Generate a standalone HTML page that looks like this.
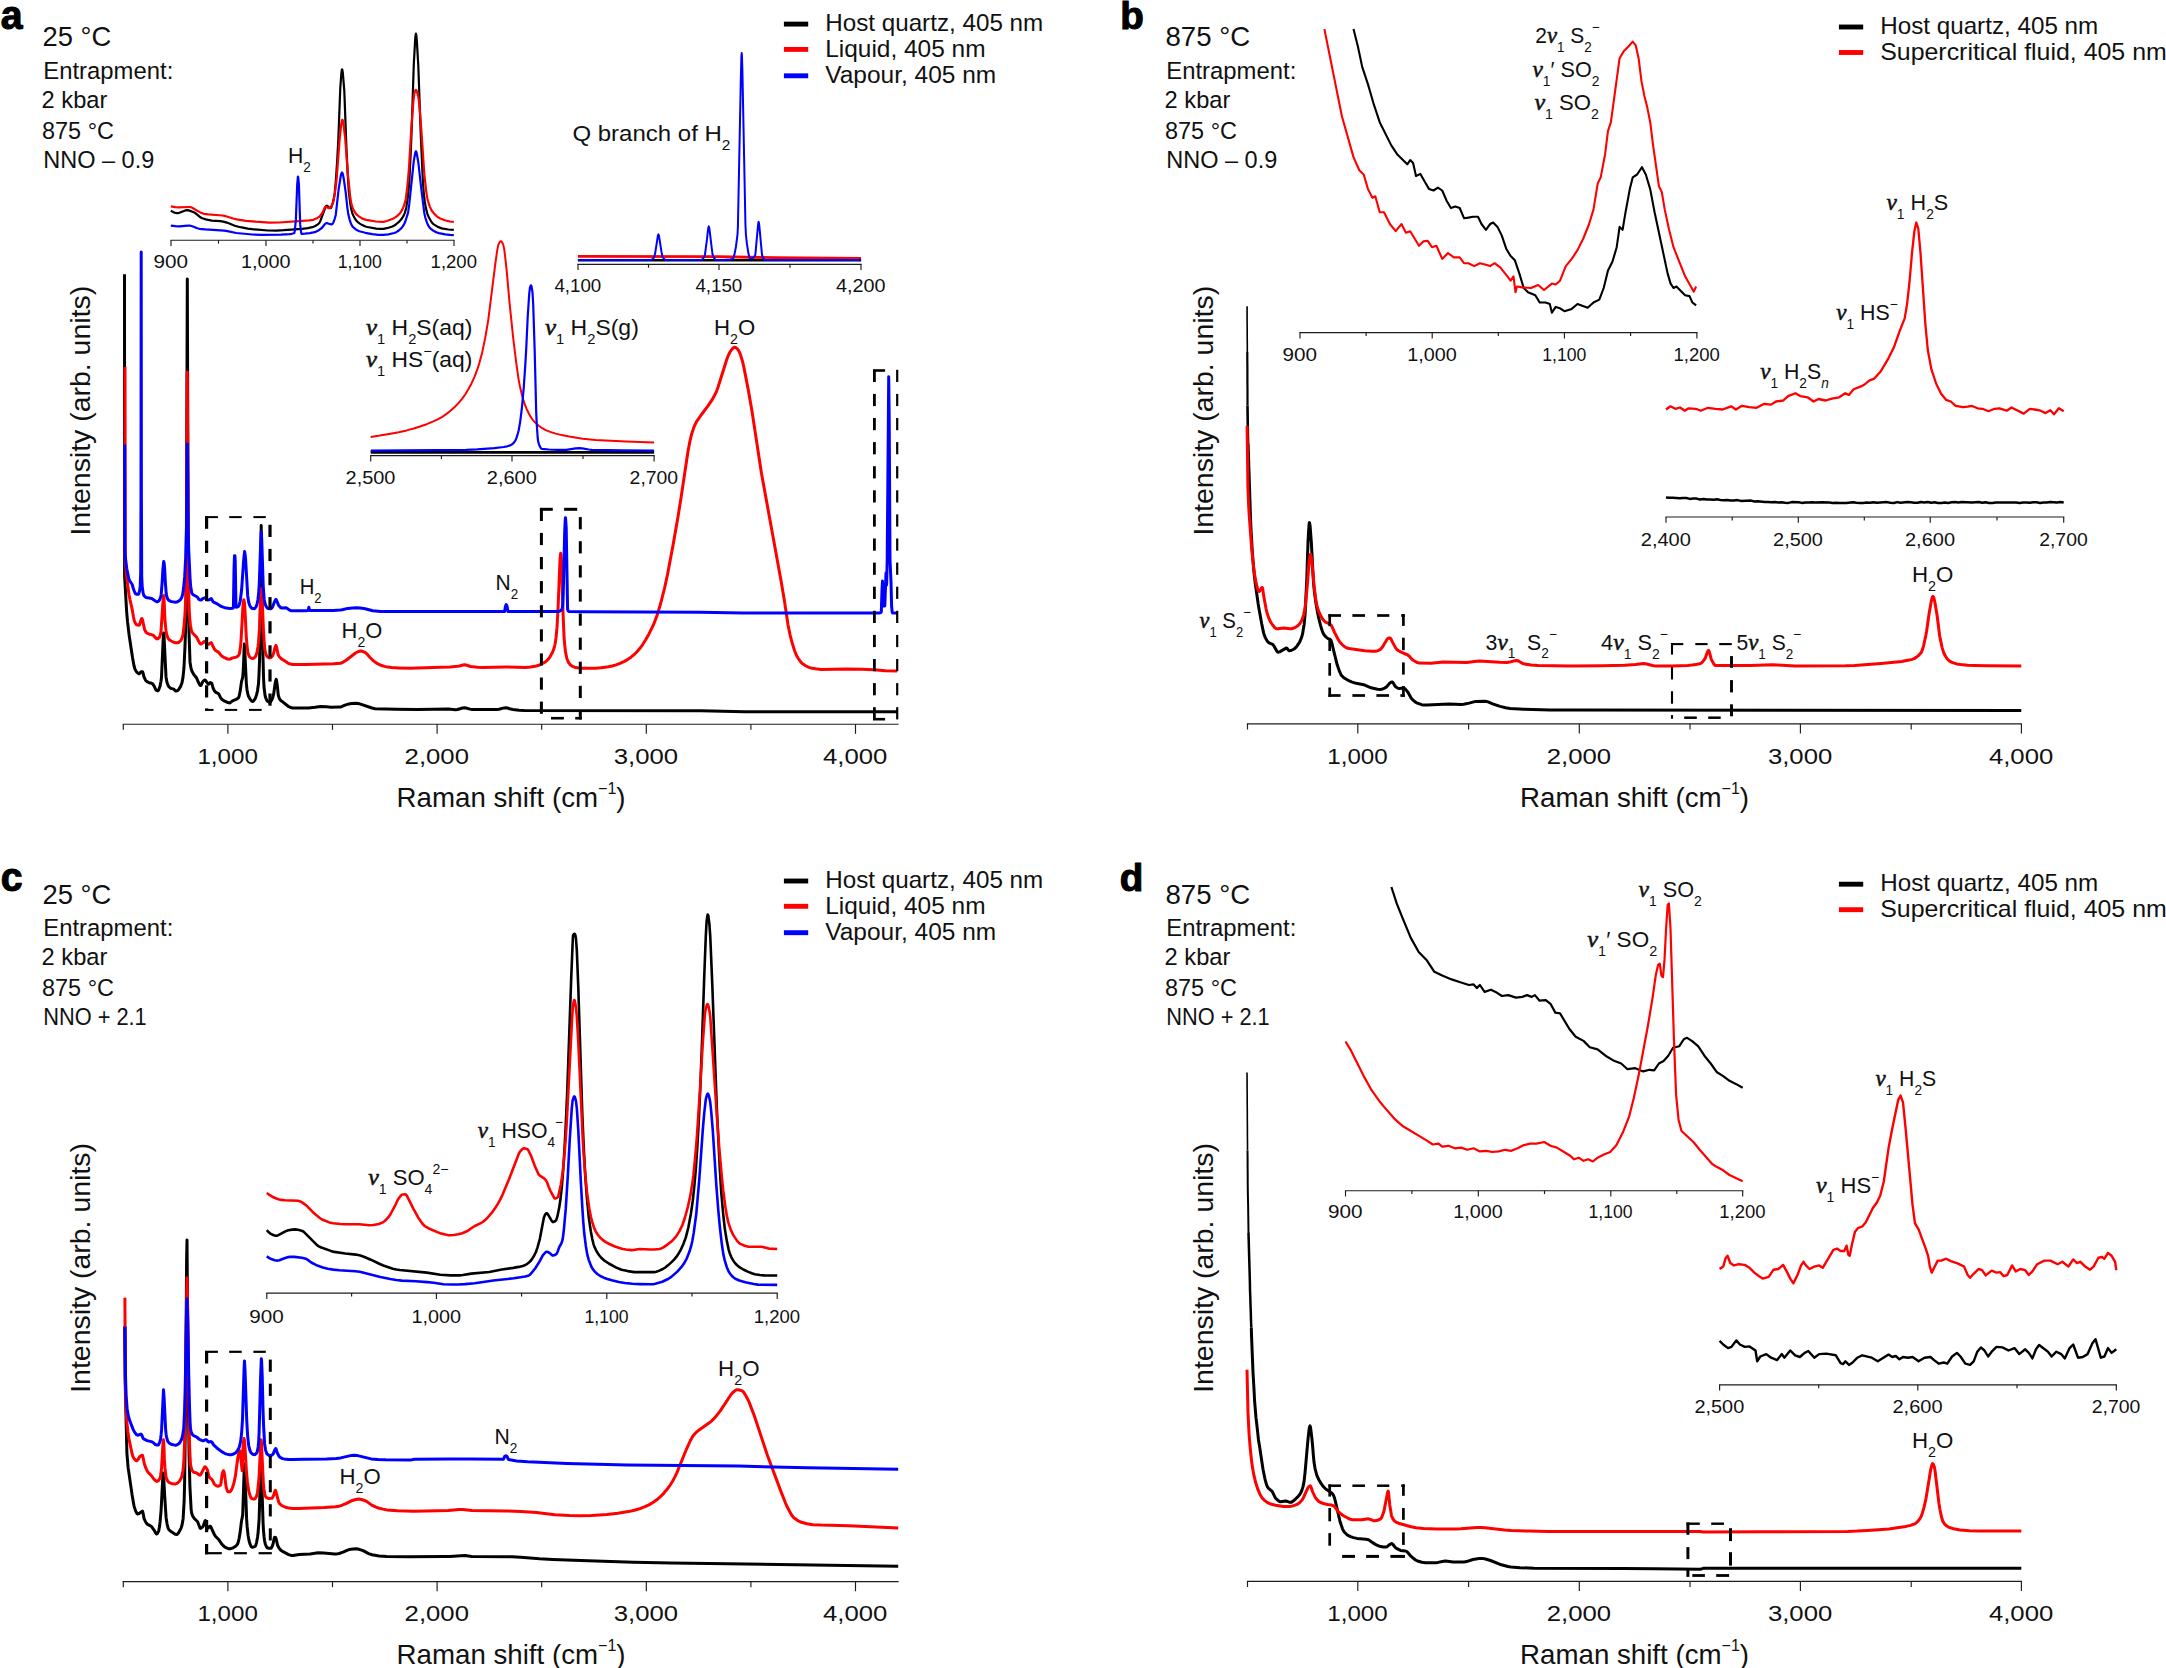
<!DOCTYPE html>
<html lang="en"><head><meta charset="utf-8"><title>Raman spectra</title>
<style>html,body{margin:0;padding:0;background:#fff}body{width:2166px;height:1668px;overflow:hidden}svg{display:block}text{white-space:pre}</style></head>
<body>
<svg width="2166" height="1668" viewBox="0 0 2166 1668" font-family="Liberation Sans, Arial, sans-serif">
<rect width="2166" height="1668" fill="#ffffff"/>
<path d="M170.8 210.7 L174.3 212.6 L175.8 213 L177 213.2 L179.3 212.8 L185.3 210.4 L187 210.2 L188.8 210.4 L193.8 212.2 L195.3 213.1 L200.8 217.6 L202.3 218.3 L205.8 219.4 L211.8 220.6 L220.3 221.2 L223.3 221.6 L226.8 222.6 L234.8 225.8 L240.3 227.2 L247.8 228.7 L257.8 229.7 L267.8 230.5 L276.3 230.6 L283.8 230.2 L301.8 228.8 L307.8 228.1 L312.3 227.2 L315.3 226 L317.8 224.3 L319.3 223 L320.3 221.2 L325.3 207.5 L326.3 205.8 L326.6 205.7 L327.3 205.9 L329.3 207.7 L330.3 208.2 L330.8 208 L331.3 207.3 L332.8 202.8 L334.3 195.9 L334.8 192.2 L335.8 181.3 L337.3 158.7 L338.3 139.7 L340.3 87.8 L341.3 74.1 L341.8 70 L342.1 69.3 L342.3 69.6 L342.8 72.5 L344.3 90.8 L346.5 149.6 L347.8 175.6 L348.8 191.8 L350.3 203.7 L351.3 209.2 L352.3 213.1 L353.3 215.5 L354.8 218.4 L356.3 220.6 L357.8 222.2 L359.8 223.6 L362.3 225.1 L364.8 226.2 L367.3 227 L376.3 228.6 L380.3 228.9 L383.3 228.8 L386.8 228.2 L391.8 226.8 L393.8 225.8 L395.8 224.5 L398.9 221.9 L401.3 219.3 L403.3 216.2 L404.8 212.9 L405.8 209.7 L406.3 207.4 L407.3 201.1 L408.3 192.8 L409.3 181.9 L410.8 151.3 L411.8 125.9 L413.8 64 L415.3 37.2 L415.9 33.7 L416.3 35.2 L416.8 40.4 L418.3 65.7 L420.8 135.7 L422.8 179.8 L423.8 194 L424.8 201.7 L425.8 207.6 L427.3 213.6 L428.8 217.3 L431.3 221.7 L432.3 223 L433.8 224.4 L437.8 226.9 L441.8 228.4 L448.3 229.5 L453.8 229.9" fill="none" stroke="#000000" stroke-width="2.2" stroke-linejoin="round" stroke-linecap="butt"/>
<path d="M170.8 206.4 L175.3 207.2 L178.8 207.4 L188.3 207 L190.3 207 L192.3 207.8 L196.3 210.3 L200.3 212.4 L203.8 213.8 L208.3 214.4 L222.3 215.5 L225.8 216.2 L233.3 218.5 L236.8 219.4 L245.8 220.8 L255.8 221.7 L269.3 222.6 L279.3 222.5 L309.3 220.4 L313.3 219.8 L316.3 218.6 L319.3 216.8 L320.8 215.1 L322.9 211.9 L324.8 207.4 L325.3 206.9 L326.3 207.1 L328.8 208.2 L329.8 208 L331.3 206.2 L332.8 203.3 L333.3 201.9 L334.8 193.9 L336.6 179.5 L339.6 139.6 L341.3 123.7 L341.8 120.8 L342.3 119.7 L342.8 120.4 L343.3 122.7 L345.3 139.6 L347.8 173.6 L350.3 197.5 L351.5 204.4 L352.8 208.1 L353.8 210.4 L355.8 213.6 L357.3 215.1 L359.3 216.6 L361.3 217.9 L363.3 218.9 L365.3 219.6 L367.8 220.2 L375.8 221.5 L382.3 221.9 L384.3 221.6 L386.8 221 L392.8 218.8 L395.3 217.4 L397.3 215.9 L399.3 214 L400.8 212.1 L402.3 209.6 L403.8 206.1 L405.1 201.9 L405.8 198.9 L407.3 186.9 L408.9 169.5 L411.3 128.5 L413.3 101.9 L414.3 93.8 L415.3 90.5 L415.9 89.8 L416.3 90.1 L417.3 92.7 L418.3 96.9 L418.8 100.2 L419.8 110.2 L421.3 129.6 L424.3 174 L426.3 192 L427.3 198.2 L428.3 202.1 L429.8 206.6 L431.8 210.8 L434.3 213.9 L436.8 216.3 L438.3 217.4 L440.3 218.5 L444.8 220.2 L449.8 221.5 L453.8 221.9" fill="none" stroke="#ff0000" stroke-width="2.2" stroke-linejoin="round" stroke-linecap="butt"/>
<path d="M170.8 225.6 L175.3 226.2 L179.3 226.4 L187.8 225.7 L190.3 225.7 L192.3 226.2 L197.3 228.3 L199.3 228.8 L205.3 229.4 L224.3 230.6 L227.3 231.1 L236.3 233 L252.3 234.5 L261.8 234.9 L280.8 234.6 L289.8 234.2 L291.8 233.8 L293.8 233.3 L294.3 233 L294.8 231 L295.9 219.4 L297.2 184.5 L297.9 176.5 L298.3 177.8 L298.9 184.5 L300.2 224.4 L300.8 230.1 L301.3 233.1 L301.7 233.9 L304.8 233.7 L309.8 233.2 L314.8 232.2 L317.8 230.8 L321.8 228 L324.8 224.3 L325.8 223.4 L326.3 223.2 L327.3 223.2 L330.3 224.2 L331.6 224.4 L332.3 224.1 L333.3 222.6 L334.8 218.6 L335.8 214.7 L338.6 189.5 L340.8 175.8 L341.3 173.8 L341.8 172.7 L342.1 172.5 L342.3 172.7 L342.8 173.9 L343.8 179 L345.8 193.1 L347.3 207.3 L348.3 214.4 L349.8 220.1 L350.8 223.2 L351.8 225.4 L352.8 226.9 L355.8 229.4 L359.3 231.2 L365.3 232.8 L372.3 234.1 L378.3 234.8 L383.3 234.8 L388.3 234.3 L394.3 233 L396.3 232.2 L398.8 230.5 L401.4 228.1 L402.8 226.4 L404.3 223.8 L405.3 221.5 L407.6 214.4 L408.3 211.2 L409.3 203.7 L413.8 160.9 L415.3 152.5 L415.9 151.3 L416.3 151.9 L416.8 153.8 L418.3 162.2 L421.3 189 L424.3 213 L425.3 217.6 L426.8 222.2 L427.8 224.6 L429.3 227.2 L430.8 228.8 L433.3 230.7 L436.3 232.3 L438.8 233.1 L445.3 234.4 L449.8 234.9 L453.8 235.1" fill="none" stroke="#0000ff" stroke-width="2.2" stroke-linejoin="round" stroke-linecap="butt"/>
<line x1="170.4" y1="240.2" x2="454.6" y2="240.2" stroke="#1c1c1c" stroke-width="1.15"/>
<line x1="171" y1="240.2" x2="171" y2="246" stroke="#1c1c1c" stroke-width="1.15"/>
<line x1="266" y1="240.2" x2="266" y2="246" stroke="#1c1c1c" stroke-width="1.15"/>
<line x1="360" y1="240.2" x2="360" y2="246" stroke="#1c1c1c" stroke-width="1.15"/>
<line x1="454" y1="240.2" x2="454" y2="246" stroke="#1c1c1c" stroke-width="1.15"/>
<line x1="218.5" y1="240.2" x2="218.5" y2="243.6" stroke="#1c1c1c" stroke-width="1.15"/>
<line x1="313" y1="240.2" x2="313" y2="243.6" stroke="#1c1c1c" stroke-width="1.15"/>
<line x1="407" y1="240.2" x2="407" y2="243.6" stroke="#1c1c1c" stroke-width="1.15"/>
<text transform="translate(153.5 268.2) scale(1.0895 1)" font-size="19" fill="#111111">900</text>
<text transform="translate(241 268.2) scale(1.0423 1)" font-size="19" fill="#111111">1,000</text>
<text transform="translate(337.8 268.2) scale(0.9277 1)" font-size="19" fill="#111111">1,100</text>
<text transform="translate(430.6 268.2) scale(0.9756 1)" font-size="19" fill="#111111">1,200</text>
<text transform="translate(288 163.3) scale(0.9627 1)" font-size="22" fill="#111111">H<tspan font-size="14.1" dy="8.8">2</tspan></text>
<path d="M577.9 260.3 L861.1 260.3" fill="none" stroke="#000000" stroke-width="2.6" stroke-linejoin="round" stroke-linecap="butt"/>
<path d="M577.9 256.3 L717.4 256.6 L774.4 257.7 L861.1 258.5" fill="none" stroke="#ff0000" stroke-width="2.8" stroke-linejoin="round" stroke-linecap="butt"/>
<path d="M577.9 260 L650.7 260 L651.4 259.9 L652.9 258.8 L654.4 256.6 L655.4 251.7 L657.9 235.7 L658.4 234.4 L658.9 235.4 L661.4 251.4 L662.4 256.5 L663.4 258.1 L664.9 259.6 L666.1 260 L701.4 260 L702.4 259.4 L703.4 258.2 L704.6 256 L704.9 255 L706.9 239.9 L707.9 230.7 L708.4 227.3 L708.8 226.4 L709.4 228.6 L712.4 253.5 L712.9 255.8 L714.4 258.5 L715.4 259.6 L716.5 260 L723.4 259.9 L729.9 259.5 L732 259.3 L732.4 259.1 L732.9 258.6 L733.9 256.3 L734.4 254.6 L735.9 247 L737.5 234.5 L737.9 226.7 L740.9 75.2 L741.4 56.7 L741.7 53.1 L741.9 54.7 L742.4 70.5 L745.4 223.2 L745.9 234.5 L746.9 243.7 L748.4 253.3 L749.4 257.1 L749.9 258.1 L750.4 258.7 L750.9 258.8 L751.9 258.5 L752.9 258 L753.9 257 L755.1 255.5 L755.4 254.1 L757.9 226.7 L758.4 222.5 L758.6 221.9 L758.9 222.5 L759.4 226.6 L761.9 253.8 L762.2 255.5 L763.4 258.2 L764.4 259.6 L764.9 260 L861.1 260" fill="none" stroke="#0000ff" stroke-width="2.0" stroke-linejoin="round" stroke-linecap="butt"/>
<line x1="577.4" y1="264.3" x2="861.6" y2="264.3" stroke="#1c1c1c" stroke-width="1.15"/>
<line x1="578" y1="264.3" x2="578" y2="270.1" stroke="#1c1c1c" stroke-width="1.15"/>
<line x1="719" y1="264.3" x2="719" y2="270.1" stroke="#1c1c1c" stroke-width="1.15"/>
<line x1="861" y1="264.3" x2="861" y2="270.1" stroke="#1c1c1c" stroke-width="1.15"/>
<line x1="648.5" y1="264.3" x2="648.5" y2="267.7" stroke="#1c1c1c" stroke-width="1.15"/>
<line x1="790" y1="264.3" x2="790" y2="267.7" stroke="#1c1c1c" stroke-width="1.15"/>
<text transform="translate(554.4 292) scale(0.9861 1)" font-size="19" fill="#111111">4,100</text>
<text transform="translate(695.4 292) scale(0.9861 1)" font-size="19" fill="#111111">4,150</text>
<text transform="translate(836 292) scale(1.0423 1)" font-size="19" fill="#111111">4,200</text>
<text transform="translate(572.4 140.9) scale(1.0922 1)" font-size="22" fill="#111111">Q branch of H<tspan font-size="14.1" dy="8.8">2</tspan></text>
<path d="M370.7 452.4 L654.1 452.4" fill="none" stroke="#000000" stroke-width="2.8" stroke-linejoin="round" stroke-linecap="butt"/>
<path d="M370.7 436.9 L379.7 435.6 L389.2 434 L398.7 432.2 L406.7 430.4 L413.7 428.5 L420.7 426.3 L426.7 424.2 L432.7 421.7 L437.7 419.3 L442.2 416.8 L446.2 414.1 L450.2 411 L454.7 407 L458.7 402.9 L462.2 398.7 L465.2 394.5 L468.2 389.6 L470.7 385.1 L474.7 376.3 L477.2 369.7 L479.2 363.6 L482.2 352.4 L485.2 338 L488.2 320.3 L495.2 264.6 L497.2 250.4 L498.3 244.9 L499.7 242.1 L500.2 241.5 L500.8 241.2 L501.7 241.7 L502.2 242.5 L503.3 244.9 L504.2 249.1 L504.7 252.8 L506.7 270.6 L509.5 302.3 L513.2 338 L516.2 362.7 L518.7 380.1 L519.7 385.3 L521.7 394 L523.2 399.6 L524.7 404.2 L526.7 409.1 L528.7 413.3 L530.7 416.9 L532.7 419.8 L535.2 422.6 L538.7 425.7 L542.2 428.2 L545.7 430.1 L550.2 431.9 L555.7 433.6 L561.7 435.1 L569.2 436.6 L582.7 438.7 L595.7 439.9 L626.2 441.4 L654.1 442.4" fill="none" stroke="#ff0000" stroke-width="2.0" stroke-linejoin="round" stroke-linecap="butt"/>
<path d="M370.7 450.6 L437.2 450.2 L466.2 449.8 L477.2 449.4 L494.2 448.2 L503.7 447 L507.2 446.3 L510.2 445.4 L512.2 444.2 L513.7 442.9 L515.2 440.9 L516.2 438.7 L517.7 434.1 L518.7 430.2 L520.2 421.6 L522 407 L523.7 388.2 L525.2 366.3 L526.2 349.4 L527.7 317 L529.2 294.1 L530 287.3 L530.7 285.6 L531 285.3 L531.2 285.5 L531.7 287.1 L532.5 292.3 L533.2 304.3 L534.7 351.4 L536.2 412.1 L536.7 423.3 L537.7 438 L538.2 441.7 L539.2 444.9 L540.7 447.9 L541.2 448.5 L541.9 448.9 L548.7 449.5 L556.7 449.8 L566.2 449.8 L575.7 448.4 L579.3 448.1 L582.2 448.3 L588.7 449.5 L591.7 449.9 L621.2 450.4 L654.1 450.6" fill="none" stroke="#0000ff" stroke-width="2.2" stroke-linejoin="round" stroke-linecap="butt"/>
<line x1="370.1" y1="455.6" x2="654.7" y2="455.6" stroke="#1c1c1c" stroke-width="1.15"/>
<line x1="370.7" y1="455.6" x2="370.7" y2="461.4" stroke="#1c1c1c" stroke-width="1.15"/>
<line x1="512" y1="455.6" x2="512" y2="461.4" stroke="#1c1c1c" stroke-width="1.15"/>
<line x1="654.1" y1="455.6" x2="654.1" y2="461.4" stroke="#1c1c1c" stroke-width="1.15"/>
<line x1="441.4" y1="455.6" x2="441.4" y2="459" stroke="#1c1c1c" stroke-width="1.15"/>
<line x1="583" y1="455.6" x2="583" y2="459" stroke="#1c1c1c" stroke-width="1.15"/>
<text transform="translate(345.6 484.3) scale(1.0486 1)" font-size="19" fill="#111111">2,500</text>
<text transform="translate(486.8 484.3) scale(1.0528 1)" font-size="19" fill="#111111">2,600</text>
<text transform="translate(629.6 484.3) scale(1.0215 1)" font-size="19" fill="#111111">2,700</text>
<text transform="translate(366 335.2) scale(1.0426 1)" font-size="22" fill="#111111"><tspan font-family="Liberation Serif, serif" font-style="italic" font-size="23.8" stroke="#111" stroke-width="0.55">ν</tspan><tspan font-size="14.1" dy="8.8">1</tspan><tspan dy="-8.8"> H</tspan><tspan font-size="14.1" dy="8.8">2</tspan><tspan dy="-8.8">S(aq)</tspan></text>
<text transform="translate(366 367) scale(1.0386 1)" font-size="22" fill="#111111"><tspan font-family="Liberation Serif, serif" font-style="italic" font-size="23.8" stroke="#111" stroke-width="0.55">ν</tspan><tspan font-size="14.1" dy="8.8">1</tspan><tspan dy="-8.8"> HS</tspan><tspan font-size="14.1" dy="-11">−</tspan><tspan dy="11">(aq)</tspan></text>
<text transform="translate(545 335) scale(1.0443 1)" font-size="22" fill="#111111"><tspan font-family="Liberation Serif, serif" font-style="italic" font-size="23.8" stroke="#111" stroke-width="0.55">ν</tspan><tspan font-size="14.1" dy="8.8">1</tspan><tspan dy="-8.8"> H</tspan><tspan font-size="14.1" dy="8.8">2</tspan><tspan dy="-8.8">S(g)</tspan></text>
<text transform="translate(714 335) scale(1.0069 1)" font-size="22" fill="#111111">H<tspan font-size="14.1" dy="8.8">2</tspan><tspan dy="-8.8">O</tspan></text>
<path d="M124.5 274.2 L124.6 576.2 L126.6 610.8 L127.5 621.4 L129 634.2 L132.5 657.5 L134 665.7 L134.9 669 L136.5 671.9 L138.5 673.7 L139.1 673.8 L139.5 673.6 L141 671.8 L142.5 671.7 L143 672.9 L143.9 676.6 L145.5 680.2 L146.5 681.2 L148 682.2 L149.5 682.8 L151.5 683.3 L152.5 683.7 L154.3 686.3 L155.5 689.1 L156.4 690.4 L157.8 690.9 L158.5 690.2 L160 686.4 L161 681.3 L161.5 677.1 L163 643.1 L163.5 634 L163.7 633 L164 635.4 L166 676.9 L167 682.5 L168.2 685.6 L169 686.8 L170 687.8 L171 688.4 L173.7 689.1 L175.5 691.1 L176 691.1 L177 690.8 L178 690.3 L178.5 689.8 L180.5 686.6 L182 682.8 L183 677.3 L184 667.2 L185 646.1 L185.5 631.1 L186.2 597 L187.3 279.1 L188.4 597 L189 632 L190 661.9 L191 668.2 L192 671.2 L193.8 674.5 L196.6 678 L198.5 682.6 L200 685.2 L200.5 685.6 L201 685.4 L202.5 682.1 L203.5 680.9 L204.5 680.1 L205 680.1 L205.5 680.4 L208 683.8 L208.5 684.2 L209 684 L210 682.7 L210.4 682.5 L211 682.8 L211.8 683.5 L212 684 L213 688 L214.5 691 L215.5 692.1 L218 693.4 L218.7 693.9 L220.8 698.1 L222 699.4 L224 700.8 L227 702.2 L229 702.8 L230 702.9 L232.5 700.8 L235.5 699.7 L237.5 698.6 L238.5 697.7 L239 696.8 L240.2 691.1 L241.5 681.6 L242.7 677.3 L243 673.8 L243.5 665.7 L244.3 644 L244.5 645.3 L246.4 684.2 L247 689.7 L247.8 693.9 L248.5 696.2 L249.9 698.8 L251.5 700.9 L252.5 701.5 L253 701.4 L254.5 699.7 L255.5 697.9 L256.5 694.9 L257.5 690.8 L258.5 683.5 L259 674.8 L259.6 659.3 L260.6 597 L261.2 525.6 L262 604.5 L262.5 636 L263.5 676.7 L264 687 L265 695.1 L265.8 698.1 L267 700.6 L267.9 701.5 L269 702.1 L270 702.2 L270.5 701.9 L271.5 700.4 L272.5 698.3 L273.7 693.9 L275 684.5 L275.5 681.6 L276.2 679.4 L276.5 680.2 L277.3 685.6 L278.3 695.3 L279.5 698.9 L281 700.8 L283 702.1 L288.5 706.5 L290 707.3 L292.5 708 L308.5 707.9 L315 707.3 L320.5 706.4 L326.5 706.7 L331 707.3 L339.9 707.1 L341.5 706.7 L345 705.1 L349 703.9 L351.5 703.6 L356.5 703.3 L359 703.7 L372 708 L375 708.8 L396 709.3 L417 709.4 L448.5 708.9 L455.5 709.8 L457.5 709.5 L462.5 708 L464.4 707.8 L466 708 L470 709.1 L471.5 709.4 L497 709.4 L499 709.2 L504 707.9 L506 707.8 L507.5 708 L510.5 709.1 L513 709.5 L519 710.2 L524.5 710.5 L701 710.8 L744.5 711.7 L897.1 711.7" fill="none" stroke="#000000" stroke-width="3.0" stroke-linejoin="round" stroke-linecap="butt"/>
<path d="M125 367 L125.2 555.4 L125.5 562.7 L126 569.7 L127 580.2 L129 594.5 L130 599.8 L132.2 609.4 L133.5 617 L134.2 620.5 L135 622.5 L136 624.4 L137.5 625.1 L139.1 625.3 L139.5 624.9 L141 620 L141.5 618.8 L142 618.5 L142.5 619.8 L144.6 629.5 L146 632.2 L147 633.1 L149 634 L153 635.1 L156.5 638.6 L157 638.9 L158 638.7 L159.5 637.4 L160.5 634.3 L161 631.6 L162.9 602.5 L163.5 596.7 L163.7 595.6 L164 597.3 L164.8 617.7 L165.5 625.9 L166 630.7 L166.5 633.4 L167 635.5 L168 638.2 L169 639.4 L170 640.3 L173.5 642.2 L175 642.7 L178 642.7 L178.5 642.5 L179.5 641.8 L181 640.2 L182 638.1 L183 634.6 L184 626.1 L185 614.1 L185.5 603.9 L186 587.3 L186.5 555 L187.3 371.9 L188.1 555.4 L188.5 580.3 L189.2 610.8 L190 621.5 L190.5 625.5 L191.5 630.9 L192 632.1 L193 633.5 L196.6 637.1 L198.5 641 L200 643.5 L200.5 644 L201 644 L201.5 643.8 L204 641.7 L204.9 641.3 L205.5 641.9 L206.5 644.2 L207 644.7 L209 644 L210.5 642.9 L211.1 642.7 L211.5 642.9 L213.2 646.8 L214.5 649.2 L215.3 650.3 L218.7 652.4 L221 655.3 L222.5 656.5 L224.5 657.7 L227.5 659 L229 659.3 L230 659.1 L232.5 657.9 L236.5 657.1 L238 656.1 L239 654.9 L239.5 653.2 L240.5 646.8 L241 640.8 L243 605.3 L243.5 601.4 L243.9 599.7 L244.5 603.1 L245 610.8 L246.4 638.5 L247 645.3 L247.8 652.4 L249 655.8 L249.5 656.7 L250.5 657.7 L251.5 658.3 L252.7 658.6 L253.5 658.4 L254.5 657.6 L255.5 656.5 L256 655.5 L257 652.1 L258 646.7 L258.5 642.2 L259.5 628.9 L260.4 603.9 L261 592.9 L261.4 588.6 L262 595.7 L263.5 631.5 L264 639.7 L264.8 649.6 L266 654.6 L266.5 655.7 L267 656.4 L268.5 657.7 L269.3 657.9 L270 657.8 L271.5 657.1 L272.5 655.8 L273.5 653.7 L274.8 648.2 L275.5 646.2 L276 645.4 L276.5 646.8 L278 654.1 L278.5 655.5 L279.5 657 L281.5 658.9 L284.5 660.7 L287.5 662.8 L288.5 663.4 L290.5 664 L292.8 664.4 L306.5 664.4 L333.5 663.8 L340.5 663.3 L342.5 662.5 L346.5 660 L355.5 653 L358.5 651.5 L360.7 651 L362.5 651.3 L365.5 652.7 L367 654.1 L370 657.5 L373.5 660.8 L375.5 662.4 L378.5 664.2 L381 665.3 L384.5 666.4 L388 667.1 L391.5 667.5 L399 667.9 L410 668.3 L418 667.9 L441 667.3 L450 666.9 L457.5 666.3 L459.5 666 L463 665 L464.4 664.8 L466 665 L470.6 666.5 L477.5 667.3 L482.5 667.6 L505.3 666.9 L525.5 667.6 L530.5 667.1 L536.5 666 L539.5 665 L543.5 663 L546 661.4 L548 659.5 L550 656.8 L552.5 652.3 L554 648.4 L555 644.5 L556 637.9 L557 627.4 L558 609.5 L560 559.7 L560.5 554.1 L560.7 553.3 L561 554.8 L561.5 562.3 L563 611.9 L564 635.9 L564.5 642.8 L565.5 652 L567 659 L568.5 662.4 L570 664.5 L572 666.1 L574.5 667.2 L577.5 667.8 L581.5 668.2 L595.5 668.3 L601 667.8 L608.5 666.8 L612 666 L616 664.9 L620 663.4 L624.4 661.4 L627.5 659.6 L631 657.2 L634 654.7 L636.5 652.2 L639.5 648.8 L642.5 644.8 L645.5 640 L649 633.9 L653.5 624.7 L657 615.6 L660.5 604 L664.5 588.3 L667.5 574.5 L673 545.4 L678 516.7 L681 498.1 L688 451.3 L690 440.9 L691.8 433.4 L694 426.9 L696.5 421.7 L701.5 414.5 L708 405.9 L712 399.9 L715 394.6 L716.5 391.3 L718 387.3 L726.5 360.2 L728 356.1 L730 352 L731.5 349.7 L733 348.1 L734 347.4 L734.6 347.2 L735.5 347.4 L737 348.6 L738.5 350.3 L740 353.4 L742.5 361.3 L744.5 370.4 L748.5 391.1 L752 411.2 L761.5 473.5 L781 580.5 L784.5 601.3 L788 624.8 L790 634.6 L792 642.4 L794.5 650.5 L796.3 655 L798 658 L800 661 L801.5 662.8 L803 664.1 L806 666 L809 667.4 L811 668 L815.5 668.8 L821 669.4 L846.5 669.1 L862 669.3 L873.5 669.7 L885.5 670.8 L897.1 670.9" fill="none" stroke="#ff0000" stroke-width="3.0" stroke-linejoin="round" stroke-linecap="butt"/>
<path d="M124.7 444.6 L125 548.5 L125.2 554.4 L125.7 560.3 L126.7 568.3 L128.7 578.2 L129.7 580.9 L132.2 584.5 L133.7 589.8 L134.7 592.3 L135.7 593.8 L136.2 594.2 L138.4 594.2 L138.7 594 L139.7 590.5 L140.2 586.5 L140.7 572.3 L141 500 L141.2 252.1 L141.4 500 L141.7 575.7 L142.2 586.8 L143.2 593.4 L143.9 595.6 L145.2 596.9 L146.2 597.5 L151.7 598.4 L154.2 600.3 L156.7 601.7 L157.2 601.8 L158.2 601.4 L159.2 600.4 L159.7 599.7 L160.7 596.8 L161.2 594.2 L162.1 583.1 L162.9 569.3 L163.7 561.6 L164.2 563.7 L164.7 569.3 L165.4 583.1 L166.2 593.3 L166.5 595.6 L167.7 598.9 L168.7 600.3 L170.7 601.4 L174.2 602.1 L175.8 602.2 L176.7 602.1 L179.2 600.7 L180.7 599.3 L181.7 597.6 L182.7 594.3 L183.7 587.3 L184.7 576.2 L185.7 557.6 L186.5 527.7 L187.3 443.9 L188.1 527.7 L188.7 549.7 L190.2 581 L190.7 586.5 L191.7 592.7 L192.2 593.8 L193.2 594.8 L197.3 597 L198.7 599.1 L199.3 599.7 L201.2 600 L202.8 598.6 L205.2 597.7 L205.7 597.7 L206.2 598.1 L207.2 599.7 L207.6 600 L209.4 599.7 L210.7 598.8 L211.2 598.6 L211.7 599.1 L212.7 601.1 L213.2 601.8 L213.7 602.1 L216.2 603.3 L221.7 606.7 L224.7 607.7 L228.2 608.3 L230.5 608.4 L232.2 608.3 L233.4 607.8 L234 569.3 L234.5 555.7 L234.9 555.7 L235.2 560.4 L236 607.2 L237.2 607 L238.2 606.6 L238.7 606 L239.2 604.8 L240.2 601.3 L241.6 590 L243.7 559.6 L244.6 551.5 L245.2 555.2 L245.7 561 L247.7 595.7 L248.7 602.2 L249.7 605.4 L250.7 607.1 L251.7 608.2 L253.2 608.6 L254.2 608.7 L255.2 608 L256.2 606.5 L257.2 603.5 L257.9 599.7 L258.7 592.6 L259.2 585.2 L260.7 542.9 L261.2 531.9 L261.7 538.9 L263.2 585.8 L264.2 599.4 L264.7 602.3 L265.7 605.6 L267.2 607.9 L268.2 608.6 L270.7 608.7 L271.7 608.1 L272.7 606.6 L274.5 601.8 L275.2 600.4 L275.9 599.4 L276.2 599.6 L278.7 605.5 L280.7 607.6 L281.7 608 L286.2 607.8 L290.2 610.4 L291.4 610.8 L304.7 610.8 L308.1 610.5 L308.9 607.3 L309.7 610.5 L333.2 610.4 L339.9 610.1 L342.2 609.8 L347.7 608.4 L352.7 607.9 L356.7 607.8 L360.2 608 L365.2 608.8 L372.7 610.7 L380.7 611.5 L504.6 611.5 L505.4 606.6 L506.2 604.6 L506.7 605.3 L507.1 606.6 L507.9 611.5 L557.9 611.5 L559.2 611.3 L560.7 610.6 L561.7 609.7 L562.2 608.2 L562.7 605.3 L563.2 595.6 L564.7 531.5 L565.2 520.7 L565.5 517.7 L566.2 527.7 L567.6 609.4 L568.2 610.9 L568.7 611.4 L584.7 611.7 L700.2 612.2 L743.2 612.9 L879.7 612.9 L880.7 612.5 L881.3 612 L882 590 L882.5 581 L883.8 606 L884.8 606 L886 573 L886.5 585 L886.7 582.8 L887.2 560 L888.7 376.7 L889.2 419.1 L890 560 L891 582 L891.6 606 L892.2 612.3 L892.4 612.9 L897 612.9" fill="none" stroke="#0000ff" stroke-width="3.0" stroke-linejoin="round" stroke-linecap="butt"/>
<text transform="translate(299.7 594.2) scale(0.9209 1)" font-size="22" fill="#111111">H<tspan font-size="14.1" dy="8.8">2</tspan></text>
<text transform="translate(341.6 637.8) scale(0.9971 1)" font-size="22" fill="#111111">H<tspan font-size="14.1" dy="8.8">2</tspan><tspan dy="-8.8">O</tspan></text>
<text transform="translate(495.6 590) scale(0.9543 1)" font-size="22" fill="#111111">N<tspan font-size="14.1" dy="8.8">2</tspan></text>
<line x1="206.6" y1="516.6" x2="206.6" y2="528.8" stroke="#000" stroke-width="3.2"/>
<line x1="206.6" y1="540.7" x2="206.6" y2="552.9" stroke="#000" stroke-width="3.2"/>
<line x1="206.6" y1="564.8" x2="206.6" y2="577" stroke="#000" stroke-width="3.2"/>
<line x1="206.6" y1="588.9" x2="206.6" y2="601.1" stroke="#000" stroke-width="3.2"/>
<line x1="206.6" y1="613" x2="206.6" y2="625.2" stroke="#000" stroke-width="3.2"/>
<line x1="206.6" y1="637.1" x2="206.6" y2="649.3" stroke="#000" stroke-width="3.2"/>
<line x1="206.6" y1="661.2" x2="206.6" y2="673.4" stroke="#000" stroke-width="3.2"/>
<line x1="206.6" y1="685.3" x2="206.6" y2="697.5" stroke="#000" stroke-width="3.2"/>
<line x1="206.6" y1="708.4" x2="206.6" y2="710.9" stroke="#000" stroke-width="3.2"/>
<line x1="270" y1="524.8" x2="270" y2="537" stroke="#000" stroke-width="3.2"/>
<line x1="270" y1="548.9" x2="270" y2="561.1" stroke="#000" stroke-width="3.2"/>
<line x1="270" y1="573" x2="270" y2="585.2" stroke="#000" stroke-width="3.2"/>
<line x1="270" y1="597.1" x2="270" y2="609.3" stroke="#000" stroke-width="3.2"/>
<line x1="270" y1="621.2" x2="270" y2="633.4" stroke="#000" stroke-width="3.2"/>
<line x1="270" y1="645.3" x2="270" y2="657.5" stroke="#000" stroke-width="3.2"/>
<line x1="270" y1="669.4" x2="270" y2="681.6" stroke="#000" stroke-width="3.2"/>
<line x1="270" y1="693.5" x2="270" y2="705.7" stroke="#000" stroke-width="3.2"/>
<line x1="205" y1="517.1" x2="217.9" y2="517.1" stroke="#000" stroke-width="2.0"/>
<line x1="229.2" y1="517.1" x2="241.7" y2="517.1" stroke="#000" stroke-width="2.0"/>
<line x1="253.4" y1="517.1" x2="265.8" y2="517.1" stroke="#000" stroke-width="2.0"/>
<line x1="205" y1="709.9" x2="213.5" y2="709.9" stroke="#000" stroke-width="2.0"/>
<line x1="224.8" y1="709.9" x2="237.2" y2="709.9" stroke="#000" stroke-width="2.0"/>
<line x1="249" y1="709.9" x2="261.7" y2="709.9" stroke="#000" stroke-width="2.0"/>
<line x1="541.4" y1="508.8" x2="541.4" y2="521" stroke="#000" stroke-width="3.0"/>
<line x1="541.4" y1="532.9" x2="541.4" y2="545.1" stroke="#000" stroke-width="3.0"/>
<line x1="541.4" y1="557" x2="541.4" y2="569.2" stroke="#000" stroke-width="3.0"/>
<line x1="541.4" y1="581.1" x2="541.4" y2="593.3" stroke="#000" stroke-width="3.0"/>
<line x1="541.4" y1="605.2" x2="541.4" y2="617.4" stroke="#000" stroke-width="3.0"/>
<line x1="541.4" y1="629.3" x2="541.4" y2="641.5" stroke="#000" stroke-width="3.0"/>
<line x1="541.4" y1="653.4" x2="541.4" y2="665.6" stroke="#000" stroke-width="3.0"/>
<line x1="541.4" y1="677.5" x2="541.4" y2="689.7" stroke="#000" stroke-width="3.0"/>
<line x1="541.4" y1="701.6" x2="541.4" y2="713.8" stroke="#000" stroke-width="3.0"/>
<line x1="580.3" y1="517.1" x2="580.3" y2="529.3" stroke="#000" stroke-width="3.0"/>
<line x1="580.3" y1="541.2" x2="580.3" y2="553.4" stroke="#000" stroke-width="3.0"/>
<line x1="580.3" y1="565.3" x2="580.3" y2="577.5" stroke="#000" stroke-width="3.0"/>
<line x1="580.3" y1="589.4" x2="580.3" y2="601.6" stroke="#000" stroke-width="3.0"/>
<line x1="580.3" y1="613.5" x2="580.3" y2="625.7" stroke="#000" stroke-width="3.0"/>
<line x1="580.3" y1="637.6" x2="580.3" y2="649.8" stroke="#000" stroke-width="3.0"/>
<line x1="580.3" y1="661.7" x2="580.3" y2="673.9" stroke="#000" stroke-width="3.0"/>
<line x1="580.3" y1="685.8" x2="580.3" y2="698" stroke="#000" stroke-width="3.0"/>
<line x1="580.3" y1="711.5" x2="580.3" y2="719.5" stroke="#000" stroke-width="3.0"/>
<line x1="539.9" y1="509.3" x2="552.8" y2="509.3" stroke="#000" stroke-width="3.0"/>
<line x1="564.1" y1="509.3" x2="577.2" y2="509.3" stroke="#000" stroke-width="3.0"/>
<line x1="551" y1="718.2" x2="563.9" y2="718.2" stroke="#000" stroke-width="2.6"/>
<line x1="575.2" y1="718.2" x2="581.8" y2="718.2" stroke="#000" stroke-width="2.6"/>
<line x1="874.4" y1="369.8" x2="874.4" y2="382" stroke="#000" stroke-width="2.8"/>
<line x1="874.4" y1="393.9" x2="874.4" y2="406.1" stroke="#000" stroke-width="2.8"/>
<line x1="874.4" y1="418" x2="874.4" y2="430.2" stroke="#000" stroke-width="2.8"/>
<line x1="874.4" y1="442.1" x2="874.4" y2="454.3" stroke="#000" stroke-width="2.8"/>
<line x1="874.4" y1="466.2" x2="874.4" y2="478.4" stroke="#000" stroke-width="2.8"/>
<line x1="874.4" y1="490.3" x2="874.4" y2="502.5" stroke="#000" stroke-width="2.8"/>
<line x1="874.4" y1="514.4" x2="874.4" y2="526.6" stroke="#000" stroke-width="2.8"/>
<line x1="874.4" y1="538.5" x2="874.4" y2="550.7" stroke="#000" stroke-width="2.8"/>
<line x1="874.4" y1="562.6" x2="874.4" y2="574.8" stroke="#000" stroke-width="2.8"/>
<line x1="874.4" y1="586.7" x2="874.4" y2="598.9" stroke="#000" stroke-width="2.8"/>
<line x1="874.4" y1="610.8" x2="874.4" y2="623" stroke="#000" stroke-width="2.8"/>
<line x1="874.4" y1="634.9" x2="874.4" y2="647.1" stroke="#000" stroke-width="2.8"/>
<line x1="874.4" y1="659" x2="874.4" y2="671.2" stroke="#000" stroke-width="2.8"/>
<line x1="874.4" y1="683.1" x2="874.4" y2="695.3" stroke="#000" stroke-width="2.8"/>
<line x1="874.4" y1="707.2" x2="874.4" y2="719.4" stroke="#000" stroke-width="2.8"/>
<line x1="897.2" y1="369.8" x2="897.2" y2="382" stroke="#000" stroke-width="2.2"/>
<line x1="897.2" y1="393.9" x2="897.2" y2="406.1" stroke="#000" stroke-width="2.2"/>
<line x1="897.2" y1="418" x2="897.2" y2="430.2" stroke="#000" stroke-width="2.2"/>
<line x1="897.2" y1="442.1" x2="897.2" y2="454.3" stroke="#000" stroke-width="2.2"/>
<line x1="897.2" y1="466.2" x2="897.2" y2="478.4" stroke="#000" stroke-width="2.2"/>
<line x1="897.2" y1="490.3" x2="897.2" y2="502.5" stroke="#000" stroke-width="2.2"/>
<line x1="897.2" y1="514.4" x2="897.2" y2="526.6" stroke="#000" stroke-width="2.2"/>
<line x1="897.2" y1="538.5" x2="897.2" y2="550.7" stroke="#000" stroke-width="2.2"/>
<line x1="897.2" y1="562.6" x2="897.2" y2="574.8" stroke="#000" stroke-width="2.2"/>
<line x1="897.2" y1="586.7" x2="897.2" y2="598.9" stroke="#000" stroke-width="2.2"/>
<line x1="897.2" y1="610.8" x2="897.2" y2="623" stroke="#000" stroke-width="2.2"/>
<line x1="897.2" y1="634.9" x2="897.2" y2="647.1" stroke="#000" stroke-width="2.2"/>
<line x1="897.2" y1="659" x2="897.2" y2="671.2" stroke="#000" stroke-width="2.2"/>
<line x1="897.2" y1="683.1" x2="897.2" y2="695.3" stroke="#000" stroke-width="2.2"/>
<line x1="897.2" y1="707.2" x2="897.2" y2="719.4" stroke="#000" stroke-width="2.2"/>
<line x1="873" y1="370.5" x2="885.1" y2="370.5" stroke="#000" stroke-width="2.6"/>
<line x1="873" y1="719.2" x2="885.1" y2="719.2" stroke="#000" stroke-width="2.6"/>
<text transform="translate(0.7 29.3) scale(0.9800 1)" font-size="40" font-weight="700" fill="#000" stroke="#000" stroke-width="1.1" stroke-linejoin="round">a</text>
<text transform="translate(42.5 45.9) scale(0.9669 1)" font-size="28.3" fill="#111111">25 °C</text>
<text transform="translate(43.3 79) scale(1.0159 1)" font-size="23.5" fill="#111111">Entrapment:</text>
<text transform="translate(41.6 107.9) scale(1.0081 1)" font-size="23.5" fill="#111111">2 kbar</text>
<text transform="translate(42 138.6) scale(0.9985 1)" font-size="23.5" fill="#111111">875 °C</text>
<text transform="translate(43.2 167.9) scale(1.0006 1)" font-size="23.5" fill="#111111">NNO – 0.9</text>
<text transform="translate(89.7 535.6) rotate(-90) scale(1.0158 1)" font-size="28" fill="#111111">Intensity (arb. units)</text>
<line x1="122.7" y1="724.2" x2="898.6" y2="724.2" stroke="#1c1c1c" stroke-width="1.15"/>
<line x1="227.9" y1="724.2" x2="227.9" y2="733.8" stroke="#1c1c1c" stroke-width="1.15"/>
<line x1="437.1" y1="724.2" x2="437.1" y2="733.8" stroke="#1c1c1c" stroke-width="1.15"/>
<line x1="646.3" y1="724.2" x2="646.3" y2="733.8" stroke="#1c1c1c" stroke-width="1.15"/>
<line x1="855.5" y1="724.2" x2="855.5" y2="733.8" stroke="#1c1c1c" stroke-width="1.15"/>
<line x1="123.3" y1="724.2" x2="123.3" y2="729.8" stroke="#1c1c1c" stroke-width="1.15"/>
<line x1="332.5" y1="724.2" x2="332.5" y2="729.8" stroke="#1c1c1c" stroke-width="1.15"/>
<line x1="541.7" y1="724.2" x2="541.7" y2="729.8" stroke="#1c1c1c" stroke-width="1.15"/>
<line x1="750.9" y1="724.2" x2="750.9" y2="729.8" stroke="#1c1c1c" stroke-width="1.15"/>
<text transform="translate(197.4 763.7) scale(1.0740 1)" font-size="22.5" fill="#111111">1,000</text>
<text transform="translate(404.6 763.7) scale(1.1444 1)" font-size="22.5" fill="#111111">2,000</text>
<text transform="translate(613.8 763.7) scale(1.1444 1)" font-size="22.5" fill="#111111">3,000</text>
<text transform="translate(823 763.7) scale(1.1444 1)" font-size="22.5" fill="#111111">4,000</text>
<text transform="translate(396.6 806.7) scale(0.9889 1)" font-size="28" fill="#111111">Raman shift (cm<tspan font-size="16.2" dy="-12.5">−1</tspan><tspan dy="12.5">)</tspan></text>
<line x1="783.9" y1="24.1" x2="808.2" y2="24.1" stroke="#000000" stroke-width="4.9"/>
<text transform="translate(825.2 30.8) scale(1.0532 1)" font-size="23" fill="#111111">Host quartz, 405 nm</text>
<line x1="783.9" y1="49.4" x2="808.2" y2="49.4" stroke="#ff0000" stroke-width="4.9"/>
<text transform="translate(825.2 56.6) scale(1.0632 1)" font-size="23" fill="#111111">Liquid, 405 nm</text>
<line x1="783.9" y1="75.8" x2="808.2" y2="75.8" stroke="#0000ff" stroke-width="4.9"/>
<text transform="translate(825.2 83.2) scale(1.0643 1)" font-size="23" fill="#111111">Vapour, 405 nm</text>
<path d="M1353.5 29.1 L1357.9 46.5 L1362.2 66.9 L1368 84.4 L1373.9 104.7 L1379.7 122.2 L1391.3 145.4 L1397.1 154.2 L1407.3 164.3 L1410.2 160 L1413.1 162.9 L1416 176 L1420.4 173.9 L1424.8 181.8 L1429.1 189.1 L1433.5 190.5 L1437.9 187.6 L1442.2 190.5 L1446.6 200.7 L1450.9 208 L1455.3 206.5 L1459.7 208 L1464 218.2 L1468.4 217.6 L1472.8 216.7 L1478 216.7 L1481.5 224 L1485.9 229.8 L1490.2 224 L1493.1 222.5 L1497.5 226.9 L1501.8 235.6 L1506.2 248.7 L1510.6 256 L1514.9 260.3 L1519.3 273.4 L1523.7 288 L1528 292.3 L1535.3 295.2 L1539.7 302.5 L1545.5 302.5 L1549.8 304 L1551.9 312.7 L1555.7 306.9 L1560 308.3 L1564.4 311.2 L1571.7 308.9 L1577.5 304 L1587.7 307.7 L1593.5 302.5 L1599.3 299.6 L1603.7 288 L1608 270.5 L1612.4 261.8 L1616.7 247.2 L1619.6 226.9 L1622.6 229.8 L1625.5 212.3 L1629.8 189.1 L1632.7 177.4 L1637.1 174.5 L1642 167.2 L1645.8 174.5 L1650.2 189.1 L1654.6 212.3 L1667.6 273.4 L1670.6 283.6 L1673.5 288 L1676.4 286.5 L1685.1 295.2 L1689.5 296.1 L1692.4 302.5 L1696.1 305.4" fill="none" stroke="#000000" stroke-width="2.1" stroke-linejoin="round" stroke-linecap="butt"/>
<path d="M1324.4 29.1 L1341.9 116.3 L1353.5 157.1 L1359.3 170.2 L1363.7 174.5 L1368 189.1 L1372.4 197.8 L1375.3 196.3 L1379.7 212.3 L1384 212.3 L1389.9 224 L1395.7 231.2 L1401.5 224 L1405.9 232.7 L1410.2 231.2 L1419 245.8 L1423.3 241.4 L1427.7 240.8 L1432 247.2 L1436.4 245.8 L1442.2 258.9 L1448 253.1 L1453.9 257.4 L1459.7 257.4 L1464 263.2 L1468.4 263.2 L1474.2 266.1 L1480 263.2 L1485.9 264.7 L1490.2 266.1 L1494.6 263.2 L1500.4 267.6 L1506.2 274.9 L1510.6 280.7 L1513.5 276.3 L1515.5 292.3 L1517 286.5 L1522.2 287.4 L1530.9 288 L1538.2 285 L1544 290 L1551.9 283.6 L1555.7 284.5 L1560 280.7 L1565.8 266.1 L1571.7 258.9 L1577.5 250.1 L1583.3 238.5 L1589.1 224 L1593.5 209.4 L1597.8 183.2 L1600.7 177.4 L1605.1 154.2 L1608 130.9 L1610.9 122.2 L1619.6 58.2 L1624 50.9 L1628.4 46.5 L1632.7 41.6 L1635.6 45.1 L1638.6 58.2 L1641.5 81.4 L1644.4 96 L1647.3 107.6 L1650.2 122.2 L1653.1 145.4 L1658.9 186.2 L1661.8 192 L1664.7 209.4 L1669.1 229.8 L1673.5 247.2 L1685.1 276.3 L1693.8 291.7 L1696.1 286.5" fill="none" stroke="#ff0000" stroke-width="2.1" stroke-linejoin="round" stroke-linecap="butt"/>
<line x1="1299.4" y1="332.6" x2="1697.5" y2="332.6" stroke="#1c1c1c" stroke-width="1.15"/>
<line x1="1300" y1="332.6" x2="1300" y2="338.4" stroke="#1c1c1c" stroke-width="1.15"/>
<line x1="1432.2" y1="332.6" x2="1432.2" y2="338.4" stroke="#1c1c1c" stroke-width="1.15"/>
<line x1="1564.4" y1="332.6" x2="1564.4" y2="338.4" stroke="#1c1c1c" stroke-width="1.15"/>
<line x1="1696.9" y1="332.6" x2="1696.9" y2="338.4" stroke="#1c1c1c" stroke-width="1.15"/>
<line x1="1366.1" y1="332.6" x2="1366.1" y2="336" stroke="#1c1c1c" stroke-width="1.15"/>
<line x1="1498.3" y1="332.6" x2="1498.3" y2="336" stroke="#1c1c1c" stroke-width="1.15"/>
<line x1="1630.6" y1="332.6" x2="1630.6" y2="336" stroke="#1c1c1c" stroke-width="1.15"/>
<text transform="translate(1282.5 360.6) scale(1.0895 1)" font-size="19" fill="#111111">900</text>
<text transform="translate(1407.2 360.6) scale(1.0423 1)" font-size="19" fill="#111111">1,000</text>
<text transform="translate(1542.2 360.6) scale(0.9277 1)" font-size="19" fill="#111111">1,100</text>
<text transform="translate(1673.5 360.6) scale(0.9756 1)" font-size="19" fill="#111111">1,200</text>
<text transform="translate(1535.3 43) scale(0.9521 1)" font-size="22" fill="#111111">2<tspan font-family="Liberation Serif, serif" font-style="italic" font-size="23.8" stroke="#111" stroke-width="0.55">ν</tspan><tspan font-size="14.1" dy="8.8">1</tspan><tspan dy="-8.8"> S</tspan><tspan font-size="14.1" dy="8.8">2</tspan><tspan font-size="14.1" dy="-19.8">−</tspan></text>
<text transform="translate(1532.4 77) scale(0.9826 1)" font-size="22" fill="#111111"><tspan font-family="Liberation Serif, serif" font-style="italic" font-size="23.8" stroke="#111" stroke-width="0.55">ν</tspan><tspan font-size="14.1" dy="8.8">1</tspan><tspan dy="-8.8">′ SO</tspan><tspan font-size="14.1" dy="8.8">2</tspan></text>
<text transform="translate(1534.4 110) scale(1.0052 1)" font-size="22" fill="#111111"><tspan font-family="Liberation Serif, serif" font-style="italic" font-size="23.8" stroke="#111" stroke-width="0.55">ν</tspan><tspan font-size="14.1" dy="8.8">1</tspan><tspan dy="-8.8"> SO</tspan><tspan font-size="14.1" dy="8.8">2</tspan></text>
<path d="M1666 497.4 L1669.4 497.8 L1672.8 497.8 L1679.6 498.3 L1683 497.9 L1686.4 498 L1689.8 498.9 L1693.2 498.5 L1696.6 498.6 L1700 499.5 L1703.4 499.1 L1706.8 499.6 L1710.2 499.4 L1713.6 499.7 L1717 499.3 L1720.4 499.9 L1723.8 500.3 L1727.2 500.1 L1730.6 500.4 L1734 500.5 L1737.4 500.1 L1740.8 500.9 L1751 500.6 L1754.4 501.5 L1757.8 501.3 L1764.6 501.9 L1768 501.9 L1771.4 502.3 L1774.8 501.9 L1778.2 502.4 L1781.6 502.2 L1785 502.8 L1788.4 502.9 L1791.8 502.1 L1798.6 502.2 L1802 502.9 L1805.4 502.4 L1808.8 502.6 L1812.2 502.3 L1815.6 502.5 L1822.4 502.3 L1829.2 502.6 L1832.6 502.9 L1836 502.7 L1839.4 502.9 L1846.2 503 L1853 502.2 L1856.4 502.8 L1859.8 502.9 L1863.2 502.9 L1866.6 502.6 L1870 502.7 L1873.4 502.2 L1876.8 502.8 L1887 502.1 L1890.4 502.8 L1893.8 503 L1897.2 502.1 L1900.6 502.8 L1907.4 502.1 L1910.8 502.3 L1914.2 502.7 L1917.6 502.8 L1921 502 L1924.4 502.6 L1927.8 502 L1931.2 502.7 L1934.6 502.3 L1938 502.9 L1941.4 503 L1944.8 502.5 L1948.2 503 L1951.6 502.3 L1955 502.1 L1958.4 502.6 L1961.8 502 L1972 502.6 L1975.4 502.2 L1978.8 502 L1982.2 502.8 L1985.6 502.3 L1989 502.9 L1992.4 502.9 L1995.8 502.4 L2006 502.6 L2016.2 502.6 L2019.6 502.9 L2023 502.5 L2026.4 502.4 L2029.8 502.7 L2033.2 502.2 L2036.6 502.3 L2040 503 L2043.4 502.5 L2046.8 502.5 L2050.2 502 L2056.9 502.6 L2060.3 502 L2063.7 502.6" fill="none" stroke="#000000" stroke-width="2.5" stroke-linejoin="round" stroke-linecap="butt"/>
<path d="M1666 409.5 L1670.4 406.3 L1675.2 408.8 L1680.1 407.5 L1684.9 410.7 L1688.6 408.3 L1695.9 408.8 L1700.7 410.7 L1708 407.8 L1715.3 408.8 L1722.6 409.5 L1731.1 406.3 L1735.9 409.5 L1742 405.8 L1749.3 407.1 L1756.6 407.8 L1763.8 403.9 L1771.1 404.6 L1776 401.5 L1783.3 400.5 L1788.1 396.1 L1795.4 393.2 L1800.3 396.1 L1807.6 397.3 L1813.6 401.5 L1818.5 399 L1825.8 400.5 L1831.8 398.6 L1839.1 397.3 L1845.2 393.2 L1848.8 394.9 L1853.7 389.3 L1861 386.4 L1864.6 384.5 L1869.5 380.3 L1874.3 378.6 L1880.4 371.8 L1887.7 359.7 L1893.8 347.6 L1899.8 330.6 L1904.7 318.4 L1907.1 303.8 L1909.5 282 L1912 252.9 L1914.4 231 L1916.3 222.5 L1918.3 228.6 L1920.5 252.9 L1925.3 323.3 L1927.8 350 L1931.4 369.4 L1936.3 384 L1941.1 393.7 L1946 399.8 L1950.8 401.5 L1955.7 405.8 L1963 407.1 L1967.8 406.6 L1971.5 405.8 L1977.5 408.3 L1982.4 408.8 L1988.5 411.2 L1994.5 408.8 L1999.4 408.3 L2006.7 410.7 L2011.5 407.5 L2023.7 413.6 L2029.8 408.8 L2034.6 409.5 L2040.7 410.7 L2045.5 413.1 L2050.4 410.2 L2054 414.3 L2058.9 408.3 L2063.7 411.2" fill="none" stroke="#ff0000" stroke-width="2.3" stroke-linejoin="round" stroke-linecap="butt"/>
<line x1="1665.4" y1="517" x2="2064.3" y2="517" stroke="#1c1c1c" stroke-width="1.15"/>
<line x1="1666" y1="517" x2="1666" y2="522.8" stroke="#1c1c1c" stroke-width="1.15"/>
<line x1="1798.3" y1="517" x2="1798.3" y2="522.8" stroke="#1c1c1c" stroke-width="1.15"/>
<line x1="1930.2" y1="517" x2="1930.2" y2="522.8" stroke="#1c1c1c" stroke-width="1.15"/>
<line x1="2063.7" y1="517" x2="2063.7" y2="522.8" stroke="#1c1c1c" stroke-width="1.15"/>
<line x1="1732.2" y1="517" x2="1732.2" y2="520.4" stroke="#1c1c1c" stroke-width="1.15"/>
<line x1="1864.3" y1="517" x2="1864.3" y2="520.4" stroke="#1c1c1c" stroke-width="1.15"/>
<line x1="1997" y1="517" x2="1997" y2="520.4" stroke="#1c1c1c" stroke-width="1.15"/>
<text transform="translate(1640.8 545.5) scale(1.0528 1)" font-size="19" fill="#111111">2,400</text>
<text transform="translate(1773.1 545.5) scale(1.0486 1)" font-size="19" fill="#111111">2,500</text>
<text transform="translate(1905 545.5) scale(1.0528 1)" font-size="19" fill="#111111">2,600</text>
<text transform="translate(2039.2 545.5) scale(1.0215 1)" font-size="19" fill="#111111">2,700</text>
<text transform="translate(1886.5 210.4) scale(0.9810 1)" font-size="22" fill="#111111"><tspan font-family="Liberation Serif, serif" font-style="italic" font-size="23.8" stroke="#111" stroke-width="0.55">ν</tspan><tspan font-size="14.1" dy="8.8">1</tspan><tspan dy="-8.8"> H</tspan><tspan font-size="14.1" dy="8.8">2</tspan><tspan dy="-8.8">S</tspan></text>
<text transform="translate(1836.2 320.4) scale(0.9707 1)" font-size="22" fill="#111111"><tspan font-family="Liberation Serif, serif" font-style="italic" font-size="23.8" stroke="#111" stroke-width="0.55">ν</tspan><tspan font-size="14.1" dy="8.8">1</tspan><tspan dy="-8.8"> HS</tspan><tspan font-size="14.1" dy="-11">−</tspan></text>
<text transform="translate(1760.2 379.1) scale(0.9693 1)" font-size="22" fill="#111111"><tspan font-family="Liberation Serif, serif" font-style="italic" font-size="23.8" stroke="#111" stroke-width="0.55">ν</tspan><tspan font-size="14.1" dy="8.8">1</tspan><tspan dy="-8.8"> H</tspan><tspan font-size="14.1" dy="8.8">2</tspan><tspan dy="-8.8">S</tspan><tspan font-size="14.1" font-style="italic" dy="8.8">n</tspan></text>
<path d="M1247.1 306.2 L1247.1 313.8 L1247.1 321.5 L1247.2 329.1 L1247.2 336.7 L1247.3 344.4 L1247.3 352" fill="none" stroke="#000000" stroke-width="1.6" stroke-linejoin="round" stroke-linecap="butt"/>
<path d="M1247.3 352 L1247.3 359.6 L1247.4 367.3 L1247.4 374.9 L1247.4 382.5 L1247.5 390.2 L1247.5 397.8 L1247.5 405.4" fill="none" stroke="#000000" stroke-width="2.2" stroke-linejoin="round" stroke-linecap="butt"/>
<path d="M1247.5 405.4 L1247.6 413.1 L1247.7 420.6 L1247.8 428.2 L1247.9 435.8 L1248.1 443.3" fill="none" stroke="#000000" stroke-width="2.6" stroke-linejoin="round" stroke-linecap="butt"/>
<path d="M1248.1 443.3 L1248.3 451 L1248.6 458.7 L1248.8 466.4 L1249.1 474.1 L1249.3 481.8 L1249.6 489.4 L1249.8 497.1 L1250.1 504.8 L1250.3 512.5 L1250.6 520.2 L1250.9 527.2 L1251.3 534.3 L1251.7 541.4 L1252.1 548.4 L1252.6 555 L1253.1 561.6 L1253.6 568.2 L1254.3 575.2 L1255.1 582.2 L1256.1 589.3 L1257.1 596.3 L1258.1 603.4 L1259.2 610 L1260.4 616.6 L1261.6 623.3 L1262.6 628.1 L1263.6 632.9 L1265.1 637.2 L1267.1 640.9 L1268.6 642.6 L1269.6 643.1 L1272.1 644.1 L1273.1 644.8 L1274.1 646.2 L1276.6 650.8 L1277.6 652 L1278.2 652.2 L1279.6 651.9 L1286.1 648.1 L1286.6 648.1 L1287.1 648.4 L1288.6 650.4 L1289.3 650.8 L1291.1 650.5 L1294.1 649 L1295.6 647.7 L1297.1 645.9 L1299.6 642.1 L1301.6 637.3 L1302.6 633.7 L1303.3 629.2 L1304.1 624.7 L1304.6 619.4 L1305.1 614.1 L1305.5 606.4 L1305.8 598.7 L1306.2 591 L1306.6 583.3 L1306.9 576.4 L1307.1 569.5 L1307.3 562.6 L1307.5 555.7 L1307.8 548.8 L1308 541.9 L1308.3 536.5 L1308.6 531 L1309.1 524.1 L1309.4 522.6 L1309.6 522.9 L1310.1 526.2 L1310.7 534.1 L1311.3 541.9 L1311.7 548.9 L1312.1 555.9 L1312.4 562.9 L1312.8 569.9 L1313.2 576.9 L1313.6 583.9 L1314.3 590.6 L1315.1 597.4 L1315.8 602.3 L1316.6 607.1 L1317.3 611.2 L1318.1 615.3 L1319.3 620.4 L1320.6 625.6 L1322.1 630.5 L1323.1 633.1 L1324.6 635.5 L1326.1 637.1 L1328.1 638.6 L1330.1 639.4 L1330.6 639.8 L1331.1 640.6 L1332.1 644 L1333.7 650.9 L1335.4 657.7 L1337.1 664.6 L1339.6 671.7 L1341.1 674.9 L1342.6 676.6 L1344.6 678.3 L1348.1 680.3 L1351.6 681.8 L1356.1 683.3 L1363.7 684.7 L1371.1 687.8 L1377.6 689.2 L1381.1 689.4 L1382.6 689 L1384.6 688.1 L1386.6 686.9 L1389.6 683.3 L1391.1 682.3 L1392.1 682 L1392.6 682.2 L1393.1 682.8 L1395.1 686.3 L1397.6 688.1 L1399.5 688.6 L1403.6 688.1 L1404.6 688.4 L1405.6 689.3 L1408.1 692.5 L1411.1 697.9 L1413.1 700.2 L1415.1 701.9 L1416.6 702.8 L1421.6 704.7 L1423.6 705.1 L1427.1 705.1 L1449.1 704 L1461.1 704.6 L1463.6 704.3 L1469.1 703.1 L1475.6 701.4 L1485.1 701.3 L1486.6 701.5 L1488.1 701.9 L1492.6 703.8 L1500.1 706.4 L1505.6 707.7 L1510.1 708.5 L1523.6 709.3 L1550.1 709.9 L1574.6 710.1 L2021.3 710.5" fill="none" stroke="#000000" stroke-width="3.0" stroke-linejoin="round" stroke-linecap="butt"/>
<path d="M1247.1 426.1 L1247.9 486.8 L1248.6 504.5 L1249.1 513.6 L1251.6 547.9 L1252.9 561.2 L1254.6 574.5 L1256.1 582.9 L1257.6 588.9 L1258.6 591.3 L1259.1 591.5 L1259.6 591.1 L1261.6 587.8 L1262.1 587.4 L1262.2 587.4 L1262.6 588.2 L1263.9 597.1 L1266.1 609 L1267.2 613.6 L1269.1 618.9 L1270.6 622 L1272.6 625 L1274.6 627.5 L1276.1 628.6 L1276.8 628.8 L1278.1 628.7 L1283.6 627.9 L1290.1 628.8 L1291.6 628.7 L1293.1 628.3 L1295.6 627.2 L1298.1 625.6 L1300.1 623.3 L1301.7 620.5 L1302.6 618.3 L1303.6 614.8 L1305 608.1 L1305.6 603.8 L1307.5 583.3 L1309.1 561.5 L1310.1 555.2 L1310.5 554.3 L1311.1 556.1 L1312.1 564 L1314.1 586 L1315.6 598.2 L1316.8 605.3 L1318.6 611.1 L1321 616.4 L1322.6 619 L1324.1 620.9 L1325.6 622.2 L1329.6 623.9 L1331.1 625.1 L1332.1 626.9 L1334.6 632.6 L1338.1 639.3 L1339.6 641.7 L1342.1 644.5 L1344.1 646.3 L1345.6 647.4 L1347.1 648 L1349.1 648.5 L1364.6 650.7 L1372.1 651.3 L1375.6 651.3 L1378.1 650.6 L1380.6 649.2 L1382.6 646.7 L1387.1 639.3 L1388 638.4 L1389.1 638 L1390.1 637.9 L1391.1 639.2 L1392.6 642.4 L1395.6 647.9 L1397.1 649.7 L1398.6 650.8 L1400.6 651.9 L1407.8 655 L1409.1 656 L1412.1 659.4 L1413.1 660.3 L1416.6 662.3 L1419.1 663.1 L1431.1 663.2 L1443.1 661.9 L1466.6 662.4 L1476.6 661.2 L1479.5 661 L1499.6 662.2 L1507.1 662.4 L1509.6 662.1 L1514.6 660.7 L1516.7 660.5 L1518.6 661 L1522.1 663.2 L1523.6 663.8 L1531.1 665 L1538.1 665.5 L1570.1 666 L1602.6 665.7 L1624.6 665.2 L1635.6 664.4 L1643.6 663.6 L1646.6 664 L1653.6 665.7 L1656.6 666 L1671.6 665.9 L1687.6 665.4 L1692.1 665.1 L1695.6 664.6 L1699.6 663.8 L1701.1 663.2 L1703.1 661.2 L1705.1 658.5 L1707.6 651.5 L1708.1 650.7 L1708.5 650.4 L1709.1 651.2 L1709.6 652.8 L1711.1 658.7 L1711.6 660 L1714.1 664.4 L1715.1 665.4 L1715.6 665.6 L1750.1 665.6 L1772.1 664.8 L1777.6 665 L1795.1 666 L1845.6 665.8 L1854.6 665.4 L1881.1 663.4 L1901.6 661.4 L1909.1 660.1 L1912.1 659.4 L1914.1 658.6 L1916.1 657.4 L1918.1 655.9 L1920.6 653.3 L1921.6 651.8 L1922.6 649.1 L1923.6 645.6 L1925.7 636 L1926.6 631.3 L1929.1 613.5 L1931.1 602.2 L1932.1 597.9 L1932.6 596.7 L1932.9 596.4 L1933.6 597.2 L1934.1 598.7 L1935.1 603.5 L1937.1 615.5 L1939.6 635.5 L1942.1 647.6 L1943.6 652.5 L1945.1 655.5 L1947.1 658.7 L1949.1 660.8 L1952.6 662.6 L1956.6 663.9 L1960.6 664.5 L1967.6 665.2 L1974.6 665.5 L1986.6 665.8 L2021.3 666.1" fill="none" stroke="#ff0000" stroke-width="3.0" stroke-linejoin="round" stroke-linecap="butt"/>
<text transform="translate(1199.6 628) scale(0.9275 1)" font-size="22" fill="#111111"><tspan font-family="Liberation Serif, serif" font-style="italic" font-size="23.8" stroke="#111" stroke-width="0.55">ν</tspan><tspan font-size="14.1" dy="8.8">1</tspan><tspan dy="-8.8"> S</tspan><tspan font-size="14.1" dy="8.8">2</tspan><tspan font-size="14.1" dy="-19.8">−</tspan></text>
<text transform="translate(1485.6 649.5) scale(0.9683 1)" font-size="22" fill="#111111">3<tspan font-family="Liberation Serif, serif" font-style="italic" font-size="23.8" stroke="#111" stroke-width="0.55">ν</tspan><tspan font-size="14.1" dy="8.8">1</tspan><tspan dy="-8.8">  S</tspan><tspan font-size="14.1" dy="8.8">2</tspan><tspan font-size="14.1" dy="-19.8">−</tspan></text>
<text transform="translate(1601.1 650.4) scale(0.9893 1)" font-size="22" fill="#111111">4<tspan font-family="Liberation Serif, serif" font-style="italic" font-size="23.8" stroke="#111" stroke-width="0.55">ν</tspan><tspan font-size="14.1" dy="8.8">1</tspan><tspan dy="-8.8"> S</tspan><tspan font-size="14.1" dy="8.8">2</tspan><tspan font-size="14.1" dy="-19.8">−</tspan></text>
<text transform="translate(1736.5 650.4) scale(0.9581 1)" font-size="22" fill="#111111">5<tspan font-family="Liberation Serif, serif" font-style="italic" font-size="23.8" stroke="#111" stroke-width="0.55">ν</tspan><tspan font-size="14.1" dy="8.8">1</tspan><tspan dy="-8.8"> S</tspan><tspan font-size="14.1" dy="8.8">2</tspan><tspan font-size="14.1" dy="-19.8">−</tspan></text>
<text transform="translate(1912 582) scale(1.0143 1)" font-size="22" fill="#111111">H<tspan font-size="14.1" dy="8.8">2</tspan><tspan dy="-8.8">O</tspan></text>
<line x1="1328.4" y1="615.5" x2="1341" y2="615.5" stroke="#000" stroke-width="2.7"/>
<line x1="1352.4" y1="615.5" x2="1365" y2="615.5" stroke="#000" stroke-width="2.7"/>
<line x1="1377.1" y1="615.5" x2="1389.3" y2="615.5" stroke="#000" stroke-width="2.7"/>
<line x1="1401.2" y1="615.5" x2="1404.8" y2="615.5" stroke="#000" stroke-width="2.7"/>
<line x1="1328.4" y1="695.5" x2="1340.6" y2="695.5" stroke="#000" stroke-width="2.7"/>
<line x1="1352.4" y1="695.5" x2="1365" y2="695.5" stroke="#000" stroke-width="2.7"/>
<line x1="1376.4" y1="695.5" x2="1389" y2="695.5" stroke="#000" stroke-width="2.7"/>
<line x1="1400.4" y1="695.5" x2="1404.8" y2="695.5" stroke="#000" stroke-width="2.7"/>
<line x1="1329.7" y1="614.2" x2="1329.7" y2="626.2" stroke="#000" stroke-width="2.7"/>
<line x1="1329.7" y1="638.4" x2="1329.7" y2="651" stroke="#000" stroke-width="2.7"/>
<line x1="1329.7" y1="663.1" x2="1329.7" y2="675.7" stroke="#000" stroke-width="2.7"/>
<line x1="1329.7" y1="687.5" x2="1329.7" y2="696.8" stroke="#000" stroke-width="2.7"/>
<line x1="1403.4" y1="614.2" x2="1403.4" y2="625.9" stroke="#000" stroke-width="2.7"/>
<line x1="1403.4" y1="637.7" x2="1403.4" y2="650.2" stroke="#000" stroke-width="2.7"/>
<line x1="1403.4" y1="662.4" x2="1403.4" y2="674.6" stroke="#000" stroke-width="2.7"/>
<line x1="1403.4" y1="686" x2="1403.4" y2="696.8" stroke="#000" stroke-width="2.7"/>
<line x1="1671" y1="644.1" x2="1683.3" y2="644.1" stroke="#000" stroke-width="2.1"/>
<line x1="1695.3" y1="644.1" x2="1707.6" y2="644.1" stroke="#000" stroke-width="2.1"/>
<line x1="1719.2" y1="644.1" x2="1731.8" y2="644.1" stroke="#000" stroke-width="2.1"/>
<line x1="1672" y1="643.2" x2="1672" y2="654.6" stroke="#000" stroke-width="2.1"/>
<line x1="1672" y1="667.2" x2="1672" y2="679.5" stroke="#000" stroke-width="2.1"/>
<line x1="1672" y1="691.2" x2="1672" y2="703.7" stroke="#000" stroke-width="2.1"/>
<line x1="1672" y1="715.1" x2="1672" y2="718.7" stroke="#000" stroke-width="2.1"/>
<line x1="1731.5" y1="656.1" x2="1731.5" y2="667.8" stroke="#000" stroke-width="2.9"/>
<line x1="1731.5" y1="680.1" x2="1731.5" y2="692.4" stroke="#000" stroke-width="2.9"/>
<line x1="1731.5" y1="704.3" x2="1731.5" y2="716.3" stroke="#000" stroke-width="2.9"/>
<line x1="1684.2" y1="717.7" x2="1696.8" y2="717.7" stroke="#000" stroke-width="2.5"/>
<line x1="1708.2" y1="717.7" x2="1720.7" y2="717.7" stroke="#000" stroke-width="2.5"/>
<text transform="translate(1120.3 29.3) scale(1.0000 1)" font-size="38.6" font-weight="700" fill="#000" stroke="#000" stroke-width="1.1" stroke-linejoin="round">b</text>
<text transform="translate(1165.5 45.9) scale(0.9760 1)" font-size="28.3" fill="#111111">875 °C</text>
<text transform="translate(1166.3 79) scale(1.0159 1)" font-size="23.5" fill="#111111">Entrapment:</text>
<text transform="translate(1164.6 107.9) scale(1.0081 1)" font-size="23.5" fill="#111111">2 kbar</text>
<text transform="translate(1165 138.6) scale(0.9985 1)" font-size="23.5" fill="#111111">875 °C</text>
<text transform="translate(1166.2 167.9) scale(1.0006 1)" font-size="23.5" fill="#111111">NNO – 0.9</text>
<text transform="translate(1212.7 535.6) rotate(-90) scale(1.0158 1)" font-size="28" fill="#111111">Intensity (arb. units)</text>
<line x1="1246.9" y1="723.9" x2="2022" y2="723.9" stroke="#1c1c1c" stroke-width="1.15"/>
<line x1="1357.8" y1="723.9" x2="1357.8" y2="733.5" stroke="#1c1c1c" stroke-width="1.15"/>
<line x1="1579.3" y1="723.9" x2="1579.3" y2="733.5" stroke="#1c1c1c" stroke-width="1.15"/>
<line x1="1800.4" y1="723.9" x2="1800.4" y2="733.5" stroke="#1c1c1c" stroke-width="1.15"/>
<line x1="2021.4" y1="723.9" x2="2021.4" y2="733.5" stroke="#1c1c1c" stroke-width="1.15"/>
<line x1="1247.5" y1="723.9" x2="1247.5" y2="729.5" stroke="#1c1c1c" stroke-width="1.15"/>
<line x1="1468.6" y1="723.9" x2="1468.6" y2="729.5" stroke="#1c1c1c" stroke-width="1.15"/>
<line x1="1690" y1="723.9" x2="1690" y2="729.5" stroke="#1c1c1c" stroke-width="1.15"/>
<line x1="1911.2" y1="723.9" x2="1911.2" y2="729.5" stroke="#1c1c1c" stroke-width="1.15"/>
<text transform="translate(1327.3 763.7) scale(1.0740 1)" font-size="22.5" fill="#111111">1,000</text>
<text transform="translate(1546.8 763.7) scale(1.1444 1)" font-size="22.5" fill="#111111">2,000</text>
<text transform="translate(1767.9 763.7) scale(1.1444 1)" font-size="22.5" fill="#111111">3,000</text>
<text transform="translate(1988.9 763.7) scale(1.1444 1)" font-size="22.5" fill="#111111">4,000</text>
<text transform="translate(1520.1 806.7) scale(0.9889 1)" font-size="28" fill="#111111">Raman shift (cm<tspan font-size="16.2" dy="-12.5">−1</tspan><tspan dy="12.5">)</tspan></text>
<line x1="1838.9" y1="27" x2="1863.2" y2="27" stroke="#000000" stroke-width="4.9"/>
<text transform="translate(1880.2 34) scale(1.0532 1)" font-size="23" fill="#111111">Host quartz, 405 nm</text>
<line x1="1838.9" y1="52.5" x2="1863.2" y2="52.5" stroke="#ff0000" stroke-width="4.9"/>
<text transform="translate(1880.2 59.8) scale(1.0831 1)" font-size="23" fill="#111111">Supercritical fluid, 405 nm</text>
<path d="M266.8 1230.2 L268.8 1232.3 L270.8 1233.9 L273.8 1235.3 L275.9 1235.8 L276.8 1235.7 L278.3 1235.1 L286.3 1230.9 L288.3 1230.3 L292.3 1229.6 L295.3 1229.4 L297.8 1229.7 L300.8 1230.4 L302.3 1230.9 L303.8 1231.9 L317.3 1245.3 L318.8 1246.3 L321.3 1247.5 L330.8 1250.9 L334.3 1251.9 L345.3 1253.5 L355.8 1254.6 L360.3 1255.5 L363.8 1256.7 L370.8 1259.7 L379.8 1264 L383.3 1265.5 L392.8 1268.7 L396.3 1269.5 L399.8 1270 L426.8 1272.6 L440.3 1274.8 L450.8 1275.4 L459.3 1275.4 L462.8 1275 L471.3 1273.6 L489.3 1272 L501.8 1269.5 L513.3 1267.9 L518.8 1266.9 L522.8 1266 L525.3 1265 L527.3 1263.8 L529.8 1261.8 L531.8 1259.4 L533.8 1256.3 L535.8 1252.2 L537.3 1248.1 L539.8 1239.1 L543.8 1217.9 L544.8 1215.3 L545.8 1213.7 L546.3 1213.3 L546.8 1213.2 L547.3 1213.5 L547.8 1214.1 L551.3 1220.2 L552.3 1221.6 L553 1222 L553.8 1221.9 L554.8 1221.4 L555.8 1220.6 L556.3 1219.9 L556.8 1218.5 L557.8 1214.6 L559.3 1207.1 L560.3 1200.3 L561.8 1187.1 L562.8 1174.9 L564.3 1152.5 L565.8 1124.1 L567.3 1089.6 L571.3 975.6 L572.8 939.2 L573.1 935.2 L573.8 934.2 L574.5 933.8 L574.8 933.9 L575.3 935.1 L575.9 937.9 L576.8 949.9 L578.3 987.6 L582.3 1114.2 L583.8 1148.9 L585.3 1176.4 L586.8 1196.9 L588.8 1217.6 L590.8 1231.2 L592.3 1239.1 L593.3 1243.3 L594.4 1246.8 L596.8 1251.8 L599.3 1255.5 L601.8 1258.3 L604.8 1260.9 L608.8 1263.5 L616.3 1267.6 L620.8 1269.5 L622.8 1270.1 L627.8 1271.1 L634.3 1272.1 L654.3 1272.1 L656.3 1271.8 L658.8 1270.9 L662.8 1269 L665.3 1267.5 L668.3 1265.1 L671.8 1261.9 L674.3 1259.3 L676.3 1256.9 L678.5 1253.7 L680.3 1250.7 L683.3 1244.3 L685.8 1237.4 L688.3 1227.7 L690.9 1213.7 L692.8 1200.4 L694.3 1186.4 L695.8 1169.3 L697.3 1147 L698.8 1120.4 L700.3 1088.1 L701.9 1045.5 L704.3 974.8 L705.8 936.3 L706.6 921.4 L707.3 916.2 L707.7 914.5 L708.3 915.7 L709.4 924.1 L710.3 937.2 L712.3 985 L716.8 1107.7 L719.8 1168.8 L721.2 1191.6 L723.3 1215.1 L724.8 1228.6 L726.8 1240.9 L728.8 1250.1 L729.8 1253.5 L731.3 1257.1 L732.8 1259.9 L734.8 1262.9 L736.8 1265 L739.8 1267.4 L743.3 1269.5 L748.3 1271.9 L751.8 1273.3 L754.8 1274.2 L759.8 1275 L764.3 1275.4 L777.2 1275.5" fill="none" stroke="#000000" stroke-width="2.6" stroke-linejoin="round" stroke-linecap="butt"/>
<path d="M266.8 1193 L269.8 1195.2 L272.3 1196.7 L276.3 1198.5 L279.3 1199.5 L281.3 1199.9 L284.8 1200.2 L297.9 1200.7 L300.3 1201.4 L302.8 1202.9 L307.3 1206.3 L313.8 1213.1 L319.8 1218 L322.7 1219.8 L329.3 1222.4 L333.3 1223.3 L340.3 1224 L344.3 1224.2 L359.3 1224.2 L369.3 1225.3 L373.3 1225 L378.8 1224 L382.3 1222.6 L384.8 1221 L387.8 1217.9 L390.3 1214.5 L394.8 1206.2 L397.8 1199.8 L400.3 1196.3 L401.3 1195.1 L402.3 1194.5 L405.5 1194.4 L406.3 1194.9 L406.8 1195.7 L413.3 1208.6 L418.3 1217.7 L422.3 1223.5 L424.8 1226.1 L428.3 1228.2 L437.3 1232.1 L440.3 1233.2 L445.3 1234.6 L447.8 1235.1 L450.3 1235.2 L453.8 1235 L458.3 1234.3 L462.3 1233.2 L466.8 1231.3 L474.3 1226.2 L480.3 1223.4 L482.7 1222 L484.8 1220.4 L486.8 1218.5 L492.3 1212.1 L494.8 1208.6 L497.8 1203.9 L500.3 1199.4 L502.3 1195.2 L508.8 1179.7 L518.8 1153.7 L519.8 1151.9 L521.8 1149.6 L522.8 1148.8 L524.1 1148.3 L526.8 1148.9 L527.8 1149.6 L528.3 1150.3 L531.3 1156.4 L534.8 1166 L538.3 1173.8 L539.8 1175.6 L543.3 1177.8 L544.8 1179 L546.1 1180.6 L546.8 1181.8 L548.8 1187.2 L550.3 1190.6 L554.3 1198.1 L554.8 1198.5 L555.3 1198.5 L556.8 1197.9 L557.8 1197.1 L558.3 1196.1 L560.8 1184.7 L562.8 1171.7 L564.3 1156.8 L565.8 1137.5 L566.8 1121.3 L572.3 1014.6 L572.8 1007.9 L573.3 1004.1 L573.8 1001.2 L574.3 1000 L574.8 1000.8 L575.9 1006.9 L576.8 1016.2 L578.3 1042.1 L582.8 1140.2 L583.8 1156 L585.3 1175.1 L586.9 1191.6 L589.3 1208.4 L590.8 1216.5 L592.3 1222.1 L593.8 1227 L595.3 1230.6 L597.3 1234 L599.8 1237.2 L602.3 1239.6 L605.8 1242.1 L609.3 1244 L614.3 1246.2 L618.8 1247.8 L621.8 1248.7 L625.8 1249.5 L631.3 1250.1 L633.3 1250 L637.8 1249.2 L639.8 1249 L649.8 1249.5 L654.3 1249.5 L659.3 1249 L661.3 1248.4 L663.3 1247.3 L667.8 1244.3 L672.3 1240.7 L675.8 1236.9 L679.3 1231.4 L682.3 1225.2 L684.8 1218 L687.8 1207.1 L690.3 1195.6 L692.3 1183.6 L693.3 1175.9 L694.8 1161.2 L696.8 1138 L700 1089.6 L702.8 1042.7 L704.8 1015.8 L705.3 1011.2 L705.8 1008.6 L706.8 1005 L707.5 1004.1 L707.8 1004.3 L708.3 1005.5 L708.8 1007.5 L709.8 1012.9 L710.3 1017.5 L717.3 1122.2 L719.3 1148.5 L721.8 1176.6 L723.3 1191 L725.3 1206.2 L726.8 1215.6 L728.3 1222.4 L730.8 1229.9 L733.3 1235.1 L737.3 1241.1 L738.8 1242.7 L740.3 1243.9 L744.8 1245.8 L748.3 1246.7 L761.8 1246.8 L763.8 1247.2 L768.8 1248.6 L777.2 1249" fill="none" stroke="#ff0000" stroke-width="2.6" stroke-linejoin="round" stroke-linecap="butt"/>
<path d="M266.8 1256.4 L269.3 1258.1 L271.3 1259 L274.8 1260.2 L276.8 1260.6 L279.3 1260.2 L283.8 1258.5 L288.3 1257.1 L290.3 1256.8 L294.3 1256.9 L301.8 1257.8 L305.8 1258.7 L307.3 1259.6 L311.3 1262.5 L317.3 1265.6 L322.8 1267.5 L327.8 1268.8 L333.3 1269.6 L339.3 1270.3 L355.3 1271.3 L359.8 1271.8 L380.3 1277 L390.3 1279 L396.3 1280 L401.8 1280.6 L415.8 1281.2 L427.3 1282.1 L433.8 1282.7 L443.3 1284.3 L451.8 1284.5 L458.3 1284.5 L464.8 1284.1 L474.8 1283.2 L493.3 1280.5 L513.8 1278.3 L525.3 1276.5 L528.8 1275.5 L529.8 1274.8 L531.3 1273.2 L535.3 1268.2 L539.3 1261.9 L542.8 1255.3 L545.3 1252.5 L546.3 1251.8 L546.8 1251.8 L547.8 1252 L549.8 1253.1 L551.8 1255 L553 1255.6 L554.8 1255.1 L556.6 1253.7 L557.3 1252.6 L559.4 1246.8 L561.3 1243.5 L562.3 1240.8 L562.8 1238.3 L563.8 1230.5 L565.8 1208.2 L567.8 1175.9 L569.8 1138.7 L571.8 1108.1 L572.6 1100.6 L573.8 1097 L574.3 1096.5 L574.8 1097 L575.9 1100.6 L576.8 1107.9 L578.3 1130.4 L580.8 1181.2 L582.3 1207.1 L583.3 1222.3 L584.2 1233 L585.8 1245.7 L587.3 1254.6 L588.8 1260.1 L591.3 1266.5 L592.8 1269.1 L594.8 1271.6 L597.3 1274 L600.3 1276 L603.8 1277.7 L607.3 1279 L611.8 1280.3 L618.8 1282 L624.8 1283 L632.3 1283.8 L640.3 1284.1 L650.9 1284.3 L652.8 1284.2 L655.3 1283.7 L662.3 1281.7 L667.5 1279.3 L671.3 1276.9 L677.3 1271.6 L681.3 1267.2 L684.3 1263 L686.8 1258.3 L689.3 1252.1 L691.3 1245.5 L692.3 1241 L693.8 1232.4 L696.3 1213.6 L699.3 1179.2 L702.8 1129.6 L704.3 1112.4 L705.8 1099.4 L706.8 1095.5 L707.3 1094.2 L707.8 1093.7 L708.3 1094.3 L708.8 1095.6 L709.8 1099.7 L710.3 1102.8 L711.3 1112.4 L712.8 1130.6 L716.3 1184.9 L718.3 1210.4 L719.9 1227.5 L721.8 1243.8 L723.3 1254.1 L724.8 1260.7 L726.8 1267.2 L728.8 1271.8 L730.3 1274 L731.8 1275.8 L733.3 1277.2 L735.3 1278.7 L739.3 1280.5 L745.3 1282.2 L753.8 1284 L757.8 1284.6 L760.8 1284.8 L777.2 1284.9" fill="none" stroke="#0000ff" stroke-width="2.6" stroke-linejoin="round" stroke-linecap="butt"/>
<line x1="266.2" y1="1293.1" x2="777.8" y2="1293.1" stroke="#1c1c1c" stroke-width="1.15"/>
<line x1="266.8" y1="1293.1" x2="266.8" y2="1298.9" stroke="#1c1c1c" stroke-width="1.15"/>
<line x1="436.4" y1="1293.1" x2="436.4" y2="1298.9" stroke="#1c1c1c" stroke-width="1.15"/>
<line x1="606.8" y1="1293.1" x2="606.8" y2="1298.9" stroke="#1c1c1c" stroke-width="1.15"/>
<line x1="777.2" y1="1293.1" x2="777.2" y2="1298.9" stroke="#1c1c1c" stroke-width="1.15"/>
<line x1="351.6" y1="1293.1" x2="351.6" y2="1296.5" stroke="#1c1c1c" stroke-width="1.15"/>
<line x1="521.6" y1="1293.1" x2="521.6" y2="1296.5" stroke="#1c1c1c" stroke-width="1.15"/>
<line x1="692" y1="1293.1" x2="692" y2="1296.5" stroke="#1c1c1c" stroke-width="1.15"/>
<text transform="translate(249.3 1322.6) scale(1.0895 1)" font-size="19" fill="#111111">900</text>
<text transform="translate(411.4 1322.6) scale(1.0423 1)" font-size="19" fill="#111111">1,000</text>
<text transform="translate(584.5 1322.6) scale(0.9277 1)" font-size="19" fill="#111111">1,100</text>
<text transform="translate(753.8 1322.6) scale(0.9756 1)" font-size="19" fill="#111111">1,200</text>
<text transform="translate(368.2 1184.7) scale(1.0010 1)" font-size="22" fill="#111111"><tspan font-family="Liberation Serif, serif" font-style="italic" font-size="23.8" stroke="#111" stroke-width="0.55">ν</tspan><tspan font-size="14.1" dy="8.8">1</tspan><tspan dy="-8.8"> SO</tspan><tspan font-size="14.1" dy="8.8">4</tspan><tspan font-size="14.1" dy="-19.8">2−</tspan></text>
<text transform="translate(477.7 1138.4) scale(0.9661 1)" font-size="22" fill="#111111"><tspan font-family="Liberation Serif, serif" font-style="italic" font-size="23.8" stroke="#111" stroke-width="0.55">ν</tspan><tspan font-size="14.1" dy="8.8">1</tspan><tspan dy="-8.8"> HSO</tspan><tspan font-size="14.1" dy="8.8">4</tspan><tspan font-size="14.1" dy="-19.8">−</tspan></text>
<path d="M124.6 1326.5 L125.1 1379.2 L126.9 1453 L128.1 1467.4 L132.1 1494.9 L134.1 1506.4 L135.6 1510.9 L136.6 1513 L137.1 1513.7 L137.6 1514 L138.1 1513.9 L139.1 1513.5 L142.4 1511.1 L142.6 1511.4 L143.1 1513.4 L144.1 1518.7 L145.6 1522 L146.6 1523.4 L147.6 1524.4 L150.6 1525.9 L151.6 1526.7 L154.4 1530.6 L155.6 1533 L156.1 1533.7 L156.6 1534 L157.1 1533.7 L157.6 1533.1 L158.8 1530.6 L159.6 1526.1 L160.1 1521.7 L161.1 1510.1 L162.6 1481 L163.3 1472.9 L163.6 1475.7 L164.6 1494.7 L166.1 1517.7 L167.1 1524.1 L168.1 1528.1 L168.8 1529.5 L170.6 1531.3 L175.6 1534.4 L176.6 1534.6 L177.1 1534.4 L178.6 1532.7 L181.1 1528.1 L182.1 1524.8 L183.1 1518.9 L184.1 1502 L184.6 1483.6 L185.7 1397.5 L186.6 1260.4 L187 1240 L188.3 1397.5 L189.1 1455 L189.9 1486.3 L191.1 1509.1 L191.6 1512.9 L192.6 1515.8 L194.6 1518.8 L197.6 1521.8 L200.1 1528.2 L200.5 1528.4 L201.1 1528.2 L202.1 1527.4 L203.2 1526.2 L204.6 1521.9 L205.1 1520.8 L205.4 1520.6 L205.6 1520.9 L206.1 1522.6 L207.1 1527.5 L207.6 1528.4 L208.1 1528.2 L209.6 1526.5 L210.3 1526.2 L210.6 1526.4 L214.1 1534 L215.4 1536.2 L218.7 1539.5 L221.6 1543.9 L223.1 1545.5 L224.6 1546.8 L227.1 1548.1 L229.1 1548.8 L230.6 1548.7 L233.1 1547.8 L235.6 1546.3 L236.6 1545.3 L237.6 1543.8 L238.1 1542.6 L239.1 1538.5 L240.1 1532.6 L241.4 1521.8 L242.7 1515.1 L244.1 1472.6 L244.7 1464.1 L246.6 1518.4 L247.1 1526.2 L248.1 1535.5 L249.1 1541 L250.1 1544.2 L251.1 1546.5 L251.6 1547.1 L252.6 1547.2 L254.6 1546.6 L255.6 1545.8 L256.6 1542.3 L257.6 1536.7 L258.1 1532.5 L259.1 1519.5 L260.6 1471.2 L261.1 1461.8 L263.1 1523.6 L263.5 1530.6 L264.1 1536.9 L264.6 1540.8 L265.3 1543.9 L266.1 1546.1 L267.1 1547.7 L269.1 1548.3 L271.1 1548.3 L272.1 1546.5 L273.1 1543.7 L274.1 1538.6 L274.6 1537.3 L275.1 1537.4 L275.7 1537.7 L276.1 1538.7 L277.5 1545 L278.6 1547.3 L280.1 1549.5 L281.6 1550.8 L283.1 1551.7 L288.6 1554.6 L291.1 1555.4 L293.1 1555.4 L299.1 1554.5 L310.1 1553.9 L318.1 1552.8 L323.6 1553 L334.6 1553.9 L337.1 1553.9 L339.1 1553.5 L343.1 1552.1 L347.6 1550.1 L349.1 1549.6 L353.1 1549 L356.3 1548.8 L359.1 1549.3 L363.1 1550.7 L368.6 1553.6 L372.1 1554.7 L379.1 1555.9 L386.6 1556.6 L409.1 1556.8 L444.1 1556.6 L450.1 1556.5 L460.6 1555.7 L465.1 1555.6 L471.6 1556.6 L512.1 1556.7 L520.6 1557.2 L539.6 1558.7 L552.6 1559.4 L588.1 1560.8 L633.6 1562.2 L671.6 1562.9 L898.2 1566.2" fill="none" stroke="#000000" stroke-width="3.0" stroke-linejoin="round" stroke-linecap="butt"/>
<path d="M124.9 1297.7 L125.3 1375.3 L125.9 1405.7 L126.9 1422.8 L127.9 1431.7 L128.9 1438.5 L131.9 1453 L132.9 1456.5 L133.9 1458.3 L135.4 1460.1 L136.4 1460.7 L136.9 1460.7 L137.9 1459.6 L139.9 1456.4 L141.4 1455.4 L142.2 1455.2 L142.4 1455.3 L142.9 1456.8 L144.4 1464 L145.9 1468.2 L147.4 1471.3 L148.4 1472.6 L151 1475.2 L153.9 1479.1 L155.9 1480.9 L156.9 1481.4 L157.4 1481.3 L158.4 1480.7 L159.9 1478.5 L160.4 1477 L160.9 1473.8 L161.5 1468.5 L162.9 1444.8 L163.5 1439.7 L163.9 1445.6 L164.4 1459.9 L164.9 1467.4 L165.9 1476.4 L166.4 1478.5 L167.4 1480.5 L168.4 1481.8 L169.4 1482.6 L172.4 1483.8 L174.9 1484 L176.4 1483.6 L177.9 1482.8 L179.4 1481.3 L181 1478.5 L181.9 1476 L182.9 1471 L183.4 1467.1 L183.9 1459.4 L184.6 1441.9 L184.9 1427.5 L186.4 1312.2 L187 1277.7 L187.4 1292 L189.4 1439.7 L189.9 1453.2 L190.4 1462.6 L190.8 1466.3 L191.9 1469.9 L192.9 1471.6 L193.9 1472.2 L196.5 1472.9 L198.9 1474.8 L199.9 1475.2 L200.4 1474.9 L201.4 1473.4 L204.4 1467.2 L204.9 1466.7 L205.4 1466.9 L206.4 1468.1 L207.4 1470 L208.9 1476 L209.4 1477.3 L209.9 1477.9 L212.1 1479.6 L214.3 1484 L215.9 1485.5 L217.4 1486.2 L218.9 1486.1 L220.5 1485.1 L220.9 1483.8 L222 1475.2 L222.9 1471.7 L223.4 1470.7 L223.9 1471.5 L224.7 1475.2 L226 1486.3 L226.9 1489.5 L227.4 1491 L227.9 1491.7 L229.9 1491.8 L230.4 1491.5 L230.9 1490.8 L232.4 1487.8 L233.9 1483.3 L235.4 1475.9 L237.9 1457.3 L238.4 1454.7 L239.4 1451.2 L239.9 1450.8 L240.4 1453.7 L241.9 1468.9 L242.2 1470.7 L243.1 1446.3 L244 1438.5 L244.4 1440.1 L244.9 1446.1 L246.4 1470.8 L247.4 1482 L248.7 1490.7 L249.9 1495.1 L250.9 1497.7 L251.6 1498.5 L252.9 1498.9 L254.2 1499.1 L254.9 1498.8 L255.4 1498.3 L256.4 1496.4 L256.9 1495.1 L257.4 1493 L258.9 1479.3 L260.9 1441.3 L261.1 1439.7 L261.4 1441.7 L263.4 1484.2 L263.9 1489 L264.9 1495.1 L265.4 1496.3 L266.4 1497.4 L267.4 1498.1 L268.6 1498.5 L271.9 1498.3 L272.9 1496.9 L273.7 1495.1 L274.9 1491 L275.4 1490.3 L275.9 1491.3 L278.4 1501.1 L279.1 1502.9 L280.4 1504.4 L281.9 1505.6 L284.9 1507 L287.4 1507.8 L292.9 1508.4 L298.4 1508.4 L324.4 1507.5 L335.4 1506.7 L338.9 1506.2 L340.9 1505.6 L345.9 1503.7 L351.4 1500.8 L355.9 1499.5 L358.5 1499.1 L361.4 1499.5 L365.4 1500.8 L366.9 1501.6 L371.8 1505.1 L375.4 1506.9 L378.4 1508 L382.9 1509.1 L386.9 1509.9 L397.4 1510.7 L413.4 1511.2 L426.4 1511.1 L448.4 1510.5 L458.9 1509.6 L462.9 1509.5 L471.9 1510.5 L505.4 1510.9 L520.9 1511.5 L536.4 1512.5 L554.9 1514.7 L569.4 1515.5 L579.4 1515.7 L591.4 1515.5 L606.9 1514.6 L617.9 1513.3 L628.4 1511.6 L634.4 1510.2 L639.4 1508.8 L644.4 1506.9 L648.9 1504.9 L652.9 1502.5 L657.4 1499.3 L660.4 1496.7 L663.9 1493.1 L666.9 1489.6 L669.4 1486.2 L672.4 1481.5 L674.9 1476.9 L676.9 1472.6 L686.4 1449.3 L690.4 1440.5 L692.9 1436.1 L695.4 1433.2 L698.4 1430.5 L708.9 1423.1 L711.4 1421.1 L713.4 1419.2 L716.4 1415.8 L720.4 1410.6 L731.4 1394 L732.4 1393 L735.4 1390.4 L736.9 1389.7 L737.9 1389.7 L739.4 1390 L741.4 1390.6 L742.4 1391 L743.4 1391.9 L745.9 1395.7 L748.9 1401.6 L754.4 1416 L767.4 1455.3 L780.9 1491.4 L785.4 1502.8 L787.4 1507.3 L791.4 1514.7 L792.4 1516.1 L793.8 1517.7 L797.4 1520.3 L801.4 1522.3 L806.9 1523.8 L812.9 1524.7 L821.4 1525.1 L848.4 1525.7 L898.2 1528" fill="none" stroke="#ff0000" stroke-width="3.0" stroke-linejoin="round" stroke-linecap="butt"/>
<path d="M125.1 1326.5 L125.5 1375.3 L126.1 1395.5 L127.1 1408.2 L127.6 1411.9 L128.6 1417 L129.6 1420.3 L133.1 1429.4 L134.4 1431.9 L136.6 1434.7 L137.6 1435.2 L138.1 1435.2 L140.1 1434.3 L141.1 1434.1 L141.6 1434.7 L143.1 1438.3 L144.1 1439.2 L147.1 1440.6 L152.2 1441.9 L153.1 1442.5 L155.1 1444.3 L157.1 1445.1 L158.1 1445.1 L158.6 1444.6 L159.9 1441.9 L160.6 1438.7 L161.1 1434.7 L161.6 1429.4 L163.5 1389.7 L164.1 1398 L165.6 1429.1 L166.1 1434.2 L166.6 1437.1 L167.6 1440.9 L168.1 1441.8 L169.1 1442.9 L171.1 1444.2 L174.6 1445.1 L175.6 1445.2 L176.6 1445 L178.8 1443.7 L180.1 1442.2 L181.6 1439.3 L182.6 1435.7 L183.7 1428.6 L184.6 1410.4 L185.1 1393.8 L186.6 1308.2 L187 1298.8 L187.6 1317.4 L189.2 1397.5 L190.1 1422.3 L190.5 1428.6 L191.1 1431.3 L191.6 1433 L192.6 1434.8 L193.6 1435.6 L196.6 1437 L199.6 1439.5 L201.6 1440.4 L203.1 1440.8 L203.6 1440.7 L205.9 1439.7 L206.6 1440 L208.1 1441.6 L208.6 1441.9 L211.1 1441.5 L212.1 1442.4 L213.8 1445.2 L216.6 1447.7 L221.6 1451.6 L224.6 1453.3 L226.5 1454.1 L229.6 1454.7 L231.6 1454.7 L233.6 1454 L236.1 1452.4 L237.6 1450.5 L239.1 1447.6 L240.6 1441.6 L241.6 1433.3 L242.5 1419.7 L244.1 1367.9 L244.5 1360.9 L245.1 1372.2 L246.7 1419.7 L247.6 1435.3 L248.5 1444.1 L249.1 1447.4 L250.1 1451 L250.9 1452.5 L252.1 1453.7 L253.6 1454.6 L254.6 1454.7 L255.1 1454.5 L256.1 1453.6 L257.1 1452.1 L257.6 1450.2 L258.1 1447 L258.6 1442.6 L259.1 1432.5 L260.6 1377.4 L261.3 1358.7 L261.6 1360.9 L262.2 1375.3 L263.1 1412.2 L263.6 1426.1 L264.6 1443.9 L265.6 1450.1 L266.6 1453.3 L267.1 1454.1 L269.1 1455.4 L270.6 1455.6 L271.6 1455.2 L273.1 1454.1 L274.6 1450.4 L275.1 1449.4 L275.7 1448.5 L276.1 1449 L277.3 1453 L279.1 1456.3 L279.7 1457 L281.1 1457.9 L282.6 1458.6 L284.1 1458.9 L288.6 1459.5 L292.6 1459.6 L304.6 1459.2 L326.6 1458.9 L336.3 1458.5 L340.6 1457.9 L351.6 1455.4 L354.1 1455.2 L357.6 1455.6 L371.1 1458.9 L378.1 1459.5 L385.6 1459.8 L410.1 1460.1 L414.4 1459.3 L449.6 1458.9 L469.6 1458.9 L503.2 1459.3 L503.6 1459 L504.6 1456.6 L505.9 1455.7 L507.1 1456.5 L508.1 1458.9 L508.5 1459.6 L516.6 1460.9 L527.6 1461.8 L567.1 1463.4 L627.1 1464.9 L738.6 1466.1 L807.6 1467.7 L898.2 1469.2" fill="none" stroke="#0000ff" stroke-width="3.0" stroke-linejoin="round" stroke-linecap="butt"/>
<text transform="translate(339.6 1484) scale(1.0069 1)" font-size="22" fill="#111111">H<tspan font-size="14.1" dy="8.8">2</tspan><tspan dy="-8.8">O</tspan></text>
<text transform="translate(494.4 1444.4) scale(0.9627 1)" font-size="22" fill="#111111">N<tspan font-size="14.1" dy="8.8">2</tspan></text>
<text transform="translate(718.1 1376) scale(1.0143 1)" font-size="22" fill="#111111">H<tspan font-size="14.1" dy="8.8">2</tspan><tspan dy="-8.8">O</tspan></text>
<line x1="206.6" y1="1351.3" x2="206.6" y2="1363.5" stroke="#000" stroke-width="3.2"/>
<line x1="206.6" y1="1375.4" x2="206.6" y2="1387.6" stroke="#000" stroke-width="3.2"/>
<line x1="206.6" y1="1399.5" x2="206.6" y2="1411.7" stroke="#000" stroke-width="3.2"/>
<line x1="206.6" y1="1423.6" x2="206.6" y2="1435.8" stroke="#000" stroke-width="3.2"/>
<line x1="206.6" y1="1447.7" x2="206.6" y2="1459.9" stroke="#000" stroke-width="3.2"/>
<line x1="206.6" y1="1471.8" x2="206.6" y2="1484" stroke="#000" stroke-width="3.2"/>
<line x1="206.6" y1="1495.9" x2="206.6" y2="1508.1" stroke="#000" stroke-width="3.2"/>
<line x1="206.6" y1="1520" x2="206.6" y2="1532.2" stroke="#000" stroke-width="3.2"/>
<line x1="206.6" y1="1544" x2="206.6" y2="1554.3" stroke="#000" stroke-width="3.2"/>
<line x1="270.3" y1="1359.6" x2="270.3" y2="1371.8" stroke="#000" stroke-width="3.0"/>
<line x1="270.3" y1="1383.7" x2="270.3" y2="1395.9" stroke="#000" stroke-width="3.0"/>
<line x1="270.3" y1="1407.8" x2="270.3" y2="1420" stroke="#000" stroke-width="3.0"/>
<line x1="270.3" y1="1431.9" x2="270.3" y2="1444.1" stroke="#000" stroke-width="3.0"/>
<line x1="270.3" y1="1456" x2="270.3" y2="1468.2" stroke="#000" stroke-width="3.0"/>
<line x1="270.3" y1="1480.1" x2="270.3" y2="1492.3" stroke="#000" stroke-width="3.0"/>
<line x1="270.3" y1="1504.2" x2="270.3" y2="1516.4" stroke="#000" stroke-width="3.0"/>
<line x1="270.3" y1="1528.3" x2="270.3" y2="1540.5" stroke="#000" stroke-width="3.0"/>
<line x1="205" y1="1351.8" x2="217.9" y2="1351.8" stroke="#000" stroke-width="2.2"/>
<line x1="229.2" y1="1351.8" x2="241.7" y2="1351.8" stroke="#000" stroke-width="2.2"/>
<line x1="253.4" y1="1351.8" x2="265.8" y2="1351.8" stroke="#000" stroke-width="2.2"/>
<line x1="205" y1="1553.2" x2="221.8" y2="1553.2" stroke="#000" stroke-width="2.2"/>
<line x1="234.1" y1="1553.2" x2="246.9" y2="1553.2" stroke="#000" stroke-width="2.2"/>
<line x1="258.6" y1="1553.2" x2="271.8" y2="1553.2" stroke="#000" stroke-width="2.2"/>
<text transform="translate(0.7 891.2) scale(0.9800 1)" font-size="40" font-weight="700" fill="#000" stroke="#000" stroke-width="1.1" stroke-linejoin="round">c</text>
<text transform="translate(42.5 903.8) scale(0.9669 1)" font-size="28.3" fill="#111111">25 °C</text>
<text transform="translate(43.3 936.2) scale(1.0159 1)" font-size="23.5" fill="#111111">Entrapment:</text>
<text transform="translate(41.6 965.1) scale(1.0081 1)" font-size="23.5" fill="#111111">2 kbar</text>
<text transform="translate(42 995.8) scale(0.9985 1)" font-size="23.5" fill="#111111">875 °C</text>
<text transform="translate(43.2 1025.1) scale(0.9275 1)" font-size="23.5" fill="#111111">NNO + 2.1</text>
<text transform="translate(89.7 1392.8) rotate(-90) scale(1.0158 1)" font-size="28" fill="#111111">Intensity (arb. units)</text>
<line x1="122.7" y1="1581.6" x2="898.6" y2="1581.6" stroke="#1c1c1c" stroke-width="1.15"/>
<line x1="227.9" y1="1581.6" x2="227.9" y2="1591.2" stroke="#1c1c1c" stroke-width="1.15"/>
<line x1="437.1" y1="1581.6" x2="437.1" y2="1591.2" stroke="#1c1c1c" stroke-width="1.15"/>
<line x1="646.3" y1="1581.6" x2="646.3" y2="1591.2" stroke="#1c1c1c" stroke-width="1.15"/>
<line x1="855.5" y1="1581.6" x2="855.5" y2="1591.2" stroke="#1c1c1c" stroke-width="1.15"/>
<line x1="123.3" y1="1581.6" x2="123.3" y2="1587.2" stroke="#1c1c1c" stroke-width="1.15"/>
<line x1="332.5" y1="1581.6" x2="332.5" y2="1587.2" stroke="#1c1c1c" stroke-width="1.15"/>
<line x1="541.7" y1="1581.6" x2="541.7" y2="1587.2" stroke="#1c1c1c" stroke-width="1.15"/>
<line x1="750.9" y1="1581.6" x2="750.9" y2="1587.2" stroke="#1c1c1c" stroke-width="1.15"/>
<text transform="translate(197.4 1620.9) scale(1.0740 1)" font-size="22.5" fill="#111111">1,000</text>
<text transform="translate(404.6 1620.9) scale(1.1444 1)" font-size="22.5" fill="#111111">2,000</text>
<text transform="translate(613.8 1620.9) scale(1.1444 1)" font-size="22.5" fill="#111111">3,000</text>
<text transform="translate(823 1620.9) scale(1.1444 1)" font-size="22.5" fill="#111111">4,000</text>
<text transform="translate(396.6 1663.9) scale(0.9889 1)" font-size="28" fill="#111111">Raman shift (cm<tspan font-size="16.2" dy="-12.5">−1</tspan><tspan dy="12.5">)</tspan></text>
<line x1="783.9" y1="881" x2="808.2" y2="881" stroke="#000000" stroke-width="4.9"/>
<text transform="translate(825.2 887.7) scale(1.0532 1)" font-size="23" fill="#111111">Host quartz, 405 nm</text>
<line x1="783.9" y1="906.3" x2="808.2" y2="906.3" stroke="#ff0000" stroke-width="4.9"/>
<text transform="translate(825.2 913.5) scale(1.0632 1)" font-size="23" fill="#111111">Liquid, 405 nm</text>
<line x1="783.9" y1="932.7" x2="808.2" y2="932.7" stroke="#0000ff" stroke-width="4.9"/>
<text transform="translate(825.2 940.1) scale(1.0643 1)" font-size="23" fill="#111111">Vapour, 405 nm</text>
<path d="M1391.4 887 L1396.7 903.4 L1403 919.1 L1410.8 937.9 L1418.7 952 L1426.5 959.9 L1434.4 971.8 L1442.2 975.6 L1451.6 979.4 L1461.1 982.5 L1468.9 985 L1473.6 984.4 L1476.8 988.1 L1479.9 985 L1484.6 991.9 L1490.9 989.7 L1495.6 991.9 L1501.9 996 L1508.2 995.1 L1516 997.6 L1522.3 996.9 L1527 995.1 L1531.7 996.9 L1534.9 995.1 L1539.6 1000.7 L1545.8 1000.1 L1550.5 1003.8 L1555.3 1012.6 L1560 1013.3 L1569.4 1029 L1575.7 1036.8 L1583.5 1040.9 L1589.8 1047.2 L1597.6 1049.4 L1605.5 1055.7 L1613.3 1060.4 L1621.2 1063.5 L1627.5 1069.2 L1635.3 1068.2 L1643.2 1071.4 L1649.5 1069.8 L1654.2 1070.4 L1658.9 1063.5 L1663.6 1061 L1668.3 1055.7 L1673 1047.8 L1679.3 1046.2 L1684 1039 L1687.1 1037.8 L1691.8 1040.9 L1698.1 1046.2 L1704.4 1055.7 L1710.7 1063.5 L1717 1072.3 L1723.2 1076.1 L1729.5 1080.8 L1735.8 1083.9 L1742.7 1087.7" fill="none" stroke="#000000" stroke-width="2.2" stroke-linejoin="round" stroke-linecap="butt"/>
<path d="M1345.5 1041.5 L1351.2 1050.9 L1363.7 1076.1 L1371.6 1090.2 L1379.4 1101.2 L1387.3 1110.6 L1395.1 1119.4 L1403 1126.3 L1426.5 1140.4 L1432.8 1144.5 L1438.5 1143.6 L1442.2 1146.7 L1448.5 1145.8 L1454.8 1148.3 L1461.1 1147.6 L1467.3 1149.8 L1473.6 1148.3 L1479.9 1151.4 L1486.2 1150.8 L1492.5 1152 L1498.7 1151.4 L1505 1149.8 L1511.3 1150.8 L1517.6 1148.3 L1523.9 1145.1 L1530.1 1143.6 L1536.4 1143.6 L1544.3 1142 L1550.5 1145.8 L1556.8 1147.6 L1569.4 1155.2 L1574.1 1159.3 L1578.8 1157.7 L1583.5 1160.8 L1588.2 1159.3 L1592.9 1161.5 L1597.6 1157.7 L1603.9 1154.6 L1610.2 1152 L1616.5 1145.1 L1622.8 1132.6 L1629 1116.9 L1633.8 1098 L1638.5 1076.1 L1647.9 1025.8 L1652.6 997.6 L1655.7 975.6 L1658.2 964.6 L1659.8 963.7 L1661.4 975.6 L1663 977.2 L1664.5 959.9 L1666.1 928.5 L1667.7 904.9 L1668.9 903.4 L1670.5 928.5 L1673.9 1038.4 L1676.1 1094.9 L1678.6 1120 L1681.5 1131 L1693.4 1142 L1699.7 1149.8 L1712.2 1164 L1717 1167.1 L1723.2 1170.3 L1729.5 1175 L1735.8 1178.1 L1742.7 1181.2" fill="none" stroke="#ff0000" stroke-width="2.2" stroke-linejoin="round" stroke-linecap="butt"/>
<line x1="1344.9" y1="1190.7" x2="1743.3" y2="1190.7" stroke="#1c1c1c" stroke-width="1.15"/>
<line x1="1345.5" y1="1190.7" x2="1345.5" y2="1196.5" stroke="#1c1c1c" stroke-width="1.15"/>
<line x1="1478.3" y1="1190.7" x2="1478.3" y2="1196.5" stroke="#1c1c1c" stroke-width="1.15"/>
<line x1="1610.8" y1="1190.7" x2="1610.8" y2="1196.5" stroke="#1c1c1c" stroke-width="1.15"/>
<line x1="1742.7" y1="1190.7" x2="1742.7" y2="1196.5" stroke="#1c1c1c" stroke-width="1.15"/>
<line x1="1411.9" y1="1190.7" x2="1411.9" y2="1194.1" stroke="#1c1c1c" stroke-width="1.15"/>
<line x1="1544.5" y1="1190.7" x2="1544.5" y2="1194.1" stroke="#1c1c1c" stroke-width="1.15"/>
<line x1="1676.8" y1="1190.7" x2="1676.8" y2="1194.1" stroke="#1c1c1c" stroke-width="1.15"/>
<text transform="translate(1328 1218.3) scale(1.0895 1)" font-size="19" fill="#111111">900</text>
<text transform="translate(1453.3 1218.3) scale(1.0423 1)" font-size="19" fill="#111111">1,000</text>
<text transform="translate(1588.5 1218.3) scale(0.9277 1)" font-size="19" fill="#111111">1,100</text>
<text transform="translate(1719.3 1218.3) scale(0.9756 1)" font-size="19" fill="#111111">1,200</text>
<text transform="translate(1638.5 897.1) scale(0.9865 1)" font-size="22" fill="#111111"><tspan font-family="Liberation Serif, serif" font-style="italic" font-size="23.8" stroke="#111" stroke-width="0.55">ν</tspan><tspan font-size="14.1" dy="8.8">1</tspan><tspan dy="-8.8"> SO</tspan><tspan font-size="14.1" dy="8.8">2</tspan></text>
<text transform="translate(1587.3 946.7) scale(1.0235 1)" font-size="22" fill="#111111"><tspan font-family="Liberation Serif, serif" font-style="italic" font-size="23.8" stroke="#111" stroke-width="0.55">ν</tspan><tspan font-size="14.1" dy="8.8">1</tspan><tspan dy="-8.8">′ SO</tspan><tspan font-size="14.1" dy="8.8">2</tspan></text>
<path d="M1719.6 1340.9 L1723.2 1344.5 L1728 1348.1 L1731.5 1346.9 L1736.3 1340.4 L1739.9 1344.5 L1744.7 1346.9 L1749.5 1346.4 L1755.5 1350.5 L1757.2 1361.3 L1760.3 1356.5 L1766.3 1354.1 L1771.1 1357.7 L1777.1 1360.1 L1781.9 1354.1 L1784.3 1357.7 L1790.3 1350.5 L1795.1 1355.3 L1799.9 1357 L1804.7 1352.9 L1808.3 1351 L1814.3 1357.7 L1819.1 1354.1 L1826.2 1353.6 L1835.8 1355.3 L1840.6 1363.2 L1843 1364.1 L1845.4 1361.3 L1849 1364.9 L1852.6 1362.5 L1857.4 1357.7 L1862.2 1355.3 L1871.8 1357.7 L1877.8 1361.3 L1888.6 1354.6 L1892.2 1357 L1895.8 1356 L1899.4 1359.3 L1903 1357 L1907.8 1357.7 L1912.6 1357 L1918.6 1361.3 L1924.5 1357.7 L1930.5 1357 L1934.1 1360.1 L1938.9 1363.7 L1943.7 1362.5 L1947.3 1363.7 L1952.1 1356.5 L1956.9 1352.9 L1960.5 1356.5 L1965.3 1363.7 L1970.1 1364.9 L1973.7 1361.3 L1977.3 1351.7 L1980.9 1347.4 L1984.5 1350.5 L1988.1 1356.5 L1991.7 1351.7 L1996.5 1346.9 L2002.5 1347.4 L2008.5 1350.5 L2014.5 1348.1 L2019.2 1354.1 L2025.2 1349.3 L2028.8 1352.9 L2032.4 1358.4 L2036 1349.3 L2039.1 1345 L2048 1351.7 L2051.6 1356.5 L2056.4 1351.7 L2061.2 1354.1 L2064.8 1358.4 L2069.6 1348.1 L2073.2 1344.5 L2078 1357.7 L2082.8 1357 L2087.6 1354.1 L2092.4 1343.3 L2095.5 1339.2 L2100.8 1357.7 L2104.4 1356.5 L2108 1348.1 L2111.6 1352.9 L2116.3 1349.3" fill="none" stroke="#000000" stroke-width="2.4" stroke-linejoin="round" stroke-linecap="butt"/>
<path d="M1719.6 1269 L1723.2 1266.6 L1725.6 1258.2 L1727.5 1255.8 L1730.3 1263 L1733.9 1265.4 L1738.7 1264.2 L1744.7 1264.9 L1749.5 1267.8 L1754.3 1272.6 L1759.1 1276.2 L1762.7 1278.6 L1768.7 1276.9 L1773.5 1269.7 L1778.3 1269 L1783.1 1264.9 L1786.7 1271.4 L1790.3 1278.6 L1793.4 1283.3 L1797.5 1275 L1801.1 1265.4 L1803.5 1261.8 L1805.9 1265.4 L1809.5 1269 L1814.3 1266.6 L1819.1 1265.4 L1822.7 1267.8 L1833.4 1249.8 L1837 1248.6 L1840.6 1251 L1844.2 1251 L1846.6 1245.7 L1848.3 1254.6 L1849.7 1255.8 L1852.1 1243.8 L1855 1231.8 L1857.9 1228.2 L1862.2 1226.5 L1865.8 1222.2 L1873 1207.8 L1876.6 1203 L1880.2 1195.8 L1883.8 1181.5 L1888.6 1147.9 L1892.2 1128.7 L1898.2 1099.9 L1900.6 1095.6 L1903 1102.3 L1905.4 1126.3 L1912.6 1205.4 L1915 1223.4 L1918.6 1229.4 L1925.7 1248.6 L1928.1 1255.8 L1929.8 1266.6 L1931.7 1272.6 L1937.7 1260.6 L1941.3 1260.6 L1946.1 1258.7 L1950.9 1261.1 L1958.1 1263.7 L1964.1 1266.6 L1967.7 1275 L1970.1 1277.8 L1973.7 1273.8 L1978.5 1269 L1982.1 1270.2 L1985.7 1275.4 L1991.7 1270.6 L1996.5 1272.6 L2000.1 1272.1 L2003.7 1276.2 L2007.3 1275 L2012.1 1265.4 L2015.7 1271.4 L2020.4 1269 L2025.2 1270.2 L2028.8 1275 L2032.4 1271.4 L2037.2 1264.2 L2044.4 1260.6 L2050.4 1260.6 L2057.6 1264.2 L2062.4 1261.8 L2068.4 1266.6 L2073.2 1259.4 L2076.8 1263 L2080.4 1261.8 L2085.2 1266.6 L2090 1269.7 L2093.6 1266.6 L2098.4 1257.7 L2102 1257 L2104.4 1258.7 L2108 1252.9 L2111.6 1255.8 L2115.1 1261.8 L2116.3 1270.2" fill="none" stroke="#ff0000" stroke-width="2.4" stroke-linejoin="round" stroke-linecap="butt"/>
<line x1="1719" y1="1384.8" x2="2116.9" y2="1384.8" stroke="#1c1c1c" stroke-width="1.15"/>
<line x1="1719.6" y1="1384.8" x2="1719.6" y2="1390.6" stroke="#1c1c1c" stroke-width="1.15"/>
<line x1="1917.8" y1="1384.8" x2="1917.8" y2="1390.6" stroke="#1c1c1c" stroke-width="1.15"/>
<line x1="2116.3" y1="1384.8" x2="2116.3" y2="1390.6" stroke="#1c1c1c" stroke-width="1.15"/>
<line x1="1818.7" y1="1384.8" x2="1818.7" y2="1388.2" stroke="#1c1c1c" stroke-width="1.15"/>
<line x1="2017" y1="1384.8" x2="2017" y2="1388.2" stroke="#1c1c1c" stroke-width="1.15"/>
<text transform="translate(1694.4 1412.8) scale(1.0486 1)" font-size="19" fill="#111111">2,500</text>
<text transform="translate(1892.5 1412.8) scale(1.0528 1)" font-size="19" fill="#111111">2,600</text>
<text transform="translate(2091.8 1412.8) scale(1.0215 1)" font-size="19" fill="#111111">2,700</text>
<text transform="translate(1875.4 1086) scale(0.9651 1)" font-size="22" fill="#111111"><tspan font-family="Liberation Serif, serif" font-style="italic" font-size="23.8" stroke="#111" stroke-width="0.55">ν</tspan><tspan font-size="14.1" dy="8.8">1</tspan><tspan dy="-8.8"> H</tspan><tspan font-size="14.1" dy="8.8">2</tspan><tspan dy="-8.8">S</tspan></text>
<text transform="translate(1816 1193.4) scale(0.9993 1)" font-size="22" fill="#111111"><tspan font-family="Liberation Serif, serif" font-style="italic" font-size="23.8" stroke="#111" stroke-width="0.55">ν</tspan><tspan font-size="14.1" dy="8.8">1</tspan><tspan dy="-8.8"> HS</tspan><tspan font-size="14.1" dy="-11">−</tspan></text>
<path d="M1247 1072.4 L1247.1 1080.2 L1247.1 1088.1 L1247.2 1095.9 L1247.2 1103.7 L1247.3 1111.5 L1247.3 1119.3 L1247.4 1127.2 L1247.4 1135 L1247.5 1142.8 L1247.5 1150.6" fill="none" stroke="#000000" stroke-width="1.6" stroke-linejoin="round" stroke-linecap="butt"/>
<path d="M1247.5 1150.6 L1247.6 1158.4 L1247.6 1166.2 L1247.7 1174.1 L1247.7 1181.9 L1247.8 1189.2 L1247.9 1196.5 L1248.1 1203.7 L1248.2 1211 L1248.3 1218.3 L1248.4 1225.6 L1248.5 1232.9" fill="none" stroke="#000000" stroke-width="2.0" stroke-linejoin="round" stroke-linecap="butt"/>
<path d="M1248.5 1232.9 L1248.7 1240 L1248.9 1247.1 L1249.1 1254.2 L1249.3 1261.3 L1249.5 1268.4 L1249.7 1275.5 L1249.9 1282.6 L1250 1289.7 L1250.3 1297.3 L1250.5 1304.8 L1250.8 1312.4 L1251 1320 L1251.3 1327.6" fill="none" stroke="#000000" stroke-width="2.5" stroke-linejoin="round" stroke-linecap="butt"/>
<path d="M1251.3 1327.6 L1251.5 1335.1 L1251.8 1342.6 L1252.1 1350 L1252.4 1357.4 L1252.7 1364.8 L1253 1372.3 L1253.4 1379.1 L1253.8 1386 L1254.2 1392.9 L1254.5 1399.8 L1255 1405.8 L1255.5 1411.9 L1256 1417.9 L1256.9 1425.3 L1257.7 1432.6 L1258.5 1440 L1259.7 1447.3 L1260.8 1454.7 L1261.9 1462 L1263 1469.3 L1264 1474.2 L1265 1479.1 L1266.5 1484.6 L1267.5 1486.9 L1268.5 1488.3 L1271.5 1490.8 L1272.4 1491.8 L1275.5 1498.2 L1278.5 1500.9 L1279.5 1501.5 L1280.5 1501.7 L1285.6 1501 L1287 1501.3 L1290 1502.3 L1291.5 1502.2 L1293.5 1500.8 L1298 1496.7 L1300 1494.1 L1301.5 1491.2 L1303 1486.6 L1304 1481.9 L1304.5 1477.5 L1305 1473.1 L1305.6 1466.3 L1306.2 1459.5 L1306.8 1452.7 L1307.4 1445.9 L1308 1439.1 L1308.5 1434.6 L1309 1430.2 L1309.5 1427 L1310 1425.9 L1310.5 1427.3 L1311.3 1433.4 L1312 1439.5 L1312.7 1447 L1313.3 1454.6 L1314 1462.1 L1315 1468.3 L1316.5 1474.2 L1317.5 1476.9 L1319 1480 L1321.2 1483.6 L1323.5 1486.8 L1326 1489.3 L1329.5 1491.4 L1331.5 1492.9 L1332.5 1493.9 L1333.5 1495.3 L1334.5 1498 L1335.5 1501.8 L1337 1508.3 L1338.5 1514.9 L1340 1521.5 L1342.5 1528.8 L1343.5 1530.9 L1344.3 1532 L1347 1534.7 L1348.5 1535.6 L1350.5 1536.6 L1353.5 1537.6 L1357 1538.4 L1366 1539.3 L1368.5 1539.8 L1370 1540.7 L1372.5 1542.6 L1375.5 1544.4 L1377.5 1545.5 L1379.5 1546.2 L1383.5 1547 L1386.5 1547.1 L1389.5 1544.6 L1391 1543.7 L1392 1543.6 L1393 1544.5 L1395 1547.2 L1397.5 1548.9 L1400.5 1550.4 L1405.5 1551.1 L1406.5 1551.4 L1407.5 1552.2 L1410.5 1555.8 L1415.5 1560 L1417.5 1561 L1422 1562.3 L1425.5 1562.7 L1436 1562.7 L1438 1562.4 L1443.5 1561.2 L1445.5 1561 L1453 1562 L1464 1562 L1466.5 1561.6 L1473 1559.5 L1479 1558.6 L1482.5 1558.4 L1485.5 1559 L1490.5 1560.5 L1499.5 1564.2 L1508 1566.5 L1511 1566.9 L1520 1567.7 L1534 1568.3 L1622.5 1568.4 L1655.5 1568.7 L1700.1 1569.3 L1703.1 1568.3 L2021.3 1568.3" fill="none" stroke="#000000" stroke-width="3.0" stroke-linejoin="round" stroke-linecap="butt"/>
<path d="M1247 1369.8 L1248 1412.7 L1249 1433 L1250 1446 L1251.5 1460.3 L1252.5 1467.6 L1254 1475.7 L1255.5 1482 L1257.5 1488.4 L1260 1494.4 L1262 1497.8 L1264.5 1500.4 L1267.5 1502.6 L1271.5 1504.3 L1275.5 1505.3 L1283.5 1506.4 L1289.5 1506.6 L1293 1505.9 L1297.5 1504.2 L1299.5 1502.8 L1302.1 1500 L1303.5 1497.5 L1308 1487.7 L1309 1486.6 L1310.3 1485.9 L1311 1486.8 L1312.5 1491.5 L1315 1497 L1317 1499.7 L1319 1501.6 L1320.5 1502.5 L1323.5 1503.5 L1327.5 1504.5 L1331.5 1505.1 L1333.5 1505.7 L1335 1507.1 L1338 1511.3 L1342 1514.7 L1344 1516 L1348.5 1518.5 L1350.5 1519.3 L1352.5 1519.8 L1362 1519.8 L1368 1518.8 L1369.5 1519.1 L1373.5 1520.7 L1375 1520.8 L1377.5 1520.3 L1380.6 1518.8 L1381 1518.4 L1382 1516.7 L1384 1511 L1387.5 1492.7 L1388.2 1491.1 L1388.5 1492.6 L1389.8 1505 L1391.5 1515.8 L1393 1519 L1394.5 1521 L1396 1522.1 L1398.5 1523.2 L1411 1526.8 L1416 1527.7 L1423.5 1528.5 L1436.5 1528.9 L1455 1529.1 L1461 1528.8 L1477 1527.5 L1481 1527.4 L1485 1527.7 L1504.5 1530 L1511 1530.6 L1529 1531.1 L1548 1531.4 L1700.1 1531.4 L1703.1 1531.9 L1763.5 1531.8 L1847.5 1531.4 L1857 1531.1 L1867.5 1530.5 L1889 1528.9 L1897 1527.8 L1906 1526.4 L1910.5 1525.4 L1914 1524.2 L1915.5 1523.5 L1917.5 1521.7 L1919.5 1519.2 L1921 1516.7 L1922.5 1512.7 L1924 1507.3 L1926 1498.5 L1930.5 1470.7 L1931.5 1466.3 L1932 1464.6 L1932.6 1463.6 L1933 1463.9 L1933.5 1464.7 L1934.3 1466.8 L1935 1470.5 L1939 1503.8 L1939.9 1509.3 L1941 1514.7 L1942 1518.8 L1943 1521.7 L1944.5 1523.9 L1946.5 1525.8 L1948 1526.8 L1949.5 1527.5 L1955 1529.1 L1960 1529.9 L1969.5 1530.7 L1979 1531.1 L2021.3 1531.1" fill="none" stroke="#ff0000" stroke-width="3.0" stroke-linejoin="round" stroke-linecap="butt"/>
<text transform="translate(1912 1447.8) scale(1.0143 1)" font-size="22" fill="#111111">H<tspan font-size="14.1" dy="8.8">2</tspan><tspan dy="-8.8">O</tspan></text>
<line x1="1328.4" y1="1485.7" x2="1341" y2="1485.7" stroke="#000" stroke-width="2.5"/>
<line x1="1352.4" y1="1485.7" x2="1365" y2="1485.7" stroke="#000" stroke-width="2.5"/>
<line x1="1377.1" y1="1485.7" x2="1389.3" y2="1485.7" stroke="#000" stroke-width="2.5"/>
<line x1="1401.2" y1="1485.7" x2="1404.8" y2="1485.7" stroke="#000" stroke-width="2.5"/>
<line x1="1329.7" y1="1484.4" x2="1329.7" y2="1496.6" stroke="#000" stroke-width="2.7"/>
<line x1="1329.7" y1="1508" x2="1329.7" y2="1521.3" stroke="#000" stroke-width="2.7"/>
<line x1="1329.7" y1="1533.1" x2="1329.7" y2="1545.7" stroke="#000" stroke-width="2.7"/>
<line x1="1403.4" y1="1484.4" x2="1403.4" y2="1495.8" stroke="#000" stroke-width="2.7"/>
<line x1="1403.4" y1="1508" x2="1403.4" y2="1519.8" stroke="#000" stroke-width="2.7"/>
<line x1="1403.4" y1="1532.4" x2="1403.4" y2="1544.9" stroke="#000" stroke-width="2.7"/>
<line x1="1403.4" y1="1555" x2="1403.4" y2="1557.9" stroke="#000" stroke-width="2.7"/>
<line x1="1342.1" y1="1556.4" x2="1355" y2="1556.4" stroke="#000" stroke-width="3.0"/>
<line x1="1366.1" y1="1556.4" x2="1379" y2="1556.4" stroke="#000" stroke-width="3.0"/>
<line x1="1390.4" y1="1556.4" x2="1404.8" y2="1556.4" stroke="#000" stroke-width="3.0"/>
<line x1="1686.4" y1="1523.7" x2="1699.8" y2="1523.7" stroke="#000" stroke-width="2.4"/>
<line x1="1711.2" y1="1523.7" x2="1724" y2="1523.7" stroke="#000" stroke-width="2.4"/>
<line x1="1687.9" y1="1522.5" x2="1687.9" y2="1534.8" stroke="#000" stroke-width="3.0"/>
<line x1="1687.9" y1="1547.1" x2="1687.9" y2="1559.1" stroke="#000" stroke-width="3.0"/>
<line x1="1687.9" y1="1569.8" x2="1687.9" y2="1576.9" stroke="#000" stroke-width="3.0"/>
<line x1="1730.5" y1="1528.2" x2="1730.5" y2="1541.1" stroke="#000" stroke-width="3.0"/>
<line x1="1730.5" y1="1552.2" x2="1730.5" y2="1565.6" stroke="#000" stroke-width="3.0"/>
<line x1="1692.3" y1="1575.5" x2="1704.9" y2="1575.5" stroke="#000" stroke-width="2.8"/>
<line x1="1716.2" y1="1575.5" x2="1729.1" y2="1575.5" stroke="#000" stroke-width="2.8"/>
<text transform="translate(1119.7 891.2) scale(1.0000 1)" font-size="38.6" font-weight="700" fill="#000" stroke="#000" stroke-width="1.1" stroke-linejoin="round">d</text>
<text transform="translate(1165.5 903.8) scale(0.9760 1)" font-size="28.3" fill="#111111">875 °C</text>
<text transform="translate(1166.3 936.2) scale(1.0159 1)" font-size="23.5" fill="#111111">Entrapment:</text>
<text transform="translate(1164.6 965.1) scale(1.0081 1)" font-size="23.5" fill="#111111">2 kbar</text>
<text transform="translate(1165 995.8) scale(0.9985 1)" font-size="23.5" fill="#111111">875 °C</text>
<text transform="translate(1166.2 1025.1) scale(0.9275 1)" font-size="23.5" fill="#111111">NNO + 2.1</text>
<text transform="translate(1212.7 1392.8) rotate(-90) scale(1.0158 1)" font-size="28" fill="#111111">Intensity (arb. units)</text>
<line x1="1246.9" y1="1581.4" x2="2022" y2="1581.4" stroke="#1c1c1c" stroke-width="1.15"/>
<line x1="1357.8" y1="1581.4" x2="1357.8" y2="1591" stroke="#1c1c1c" stroke-width="1.15"/>
<line x1="1579.3" y1="1581.4" x2="1579.3" y2="1591" stroke="#1c1c1c" stroke-width="1.15"/>
<line x1="1800.4" y1="1581.4" x2="1800.4" y2="1591" stroke="#1c1c1c" stroke-width="1.15"/>
<line x1="2021.4" y1="1581.4" x2="2021.4" y2="1591" stroke="#1c1c1c" stroke-width="1.15"/>
<line x1="1247.5" y1="1581.4" x2="1247.5" y2="1587" stroke="#1c1c1c" stroke-width="1.15"/>
<line x1="1468.6" y1="1581.4" x2="1468.6" y2="1587" stroke="#1c1c1c" stroke-width="1.15"/>
<line x1="1690" y1="1581.4" x2="1690" y2="1587" stroke="#1c1c1c" stroke-width="1.15"/>
<line x1="1911.2" y1="1581.4" x2="1911.2" y2="1587" stroke="#1c1c1c" stroke-width="1.15"/>
<text transform="translate(1327.3 1620.9) scale(1.0740 1)" font-size="22.5" fill="#111111">1,000</text>
<text transform="translate(1546.8 1620.9) scale(1.1444 1)" font-size="22.5" fill="#111111">2,000</text>
<text transform="translate(1767.9 1620.9) scale(1.1444 1)" font-size="22.5" fill="#111111">3,000</text>
<text transform="translate(1988.9 1620.9) scale(1.1444 1)" font-size="22.5" fill="#111111">4,000</text>
<text transform="translate(1520.1 1663.9) scale(0.9889 1)" font-size="28" fill="#111111">Raman shift (cm<tspan font-size="16.2" dy="-12.5">−1</tspan><tspan dy="12.5">)</tspan></text>
<line x1="1838.9" y1="884.2" x2="1863.2" y2="884.2" stroke="#000000" stroke-width="4.9"/>
<text transform="translate(1880.2 891.2) scale(1.0532 1)" font-size="23" fill="#111111">Host quartz, 405 nm</text>
<line x1="1838.9" y1="909.7" x2="1863.2" y2="909.7" stroke="#ff0000" stroke-width="4.9"/>
<text transform="translate(1880.2 917) scale(1.0831 1)" font-size="23" fill="#111111">Supercritical fluid, 405 nm</text>
</svg>
</body></html>
